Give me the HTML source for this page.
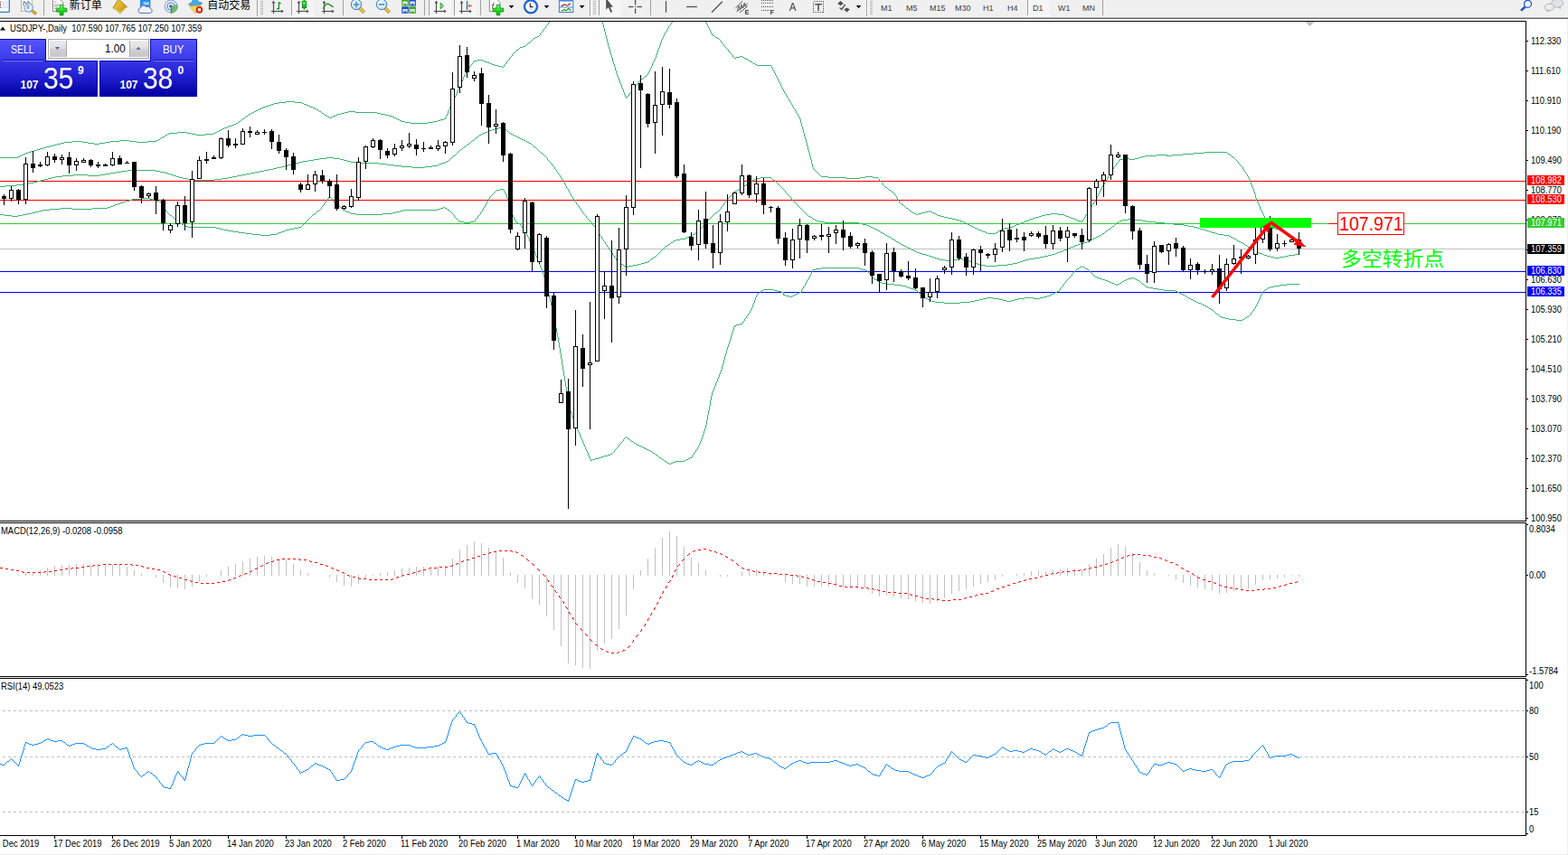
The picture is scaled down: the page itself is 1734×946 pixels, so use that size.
<!DOCTYPE html>
<html><head><meta charset="utf-8"><title>USDJPY Daily</title>
<style>
html,body{margin:0;padding:0;background:#fff;}
body{width:1734px;height:946px;position:relative;overflow:hidden;font-family:"Liberation Sans",sans-serif;}
#chart{position:absolute;left:0;top:0;}
.t{position:absolute;font-size:10px;line-height:11px;margin-top:0.4px;color:#000;white-space:nowrap;transform:scaleX(0.942);transform-origin:0 0;}
.t.title{transform:scaleX(0.942);}
.t.m{transform:scaleX(0.942);}
.t.w{color:#fff;}
#toolbar{position:absolute;left:0;top:0;width:1734px;height:19px;background:#f0f0f0;}
#tbline0{position:absolute;left:0;top:18px;width:1734px;height:1px;background:#f5f5f5;}
#tbline1{position:absolute;left:0;top:19px;width:1734px;height:1px;background:#b0b0b0;}
#tbline2{position:absolute;left:0;top:20px;width:1734px;height:1px;background:#6a6a6a;}
#rborder{position:absolute;left:1733px;top:21px;width:1px;height:925px;background:#f0f0f0;}
#bborder{position:absolute;left:0;top:945px;width:1734px;height:1px;background:#ececec;}
.pl{position:absolute;left:1689px;width:41px;height:11px;}
.big{position:absolute;left:1481px;top:235px;font-size:22.5px;line-height:25px;color:#ff0000;white-space:nowrap;transform:scaleX(0.87);transform-origin:0 0;}
.tf{position:absolute;top:2.5px;font-size:9.4px;line-height:11px;color:#404040;transform:scaleX(0.96);transform-origin:0 0;white-space:nowrap;}

.pn{position:absolute;}
.pb{background:linear-gradient(#5555ff,#3838e6);}
.pp{background:linear-gradient(#3636e4 0%,#2222d4 40%,#0000a0 100%);}
.ptxt{position:absolute;color:#fff;white-space:nowrap;line-height:1;transform-origin:0 0;}

</style></head><body>
<svg id="chart" width="1734" height="946" viewBox="0 0 1734 946">
<defs><clipPath id="mainclip"><rect x="0" y="24" width="1687" height="552"/></clipPath></defs>
<g shape-rendering="crispEdges">
<rect x="0" y="23" width="1688" height="1" fill="#000"/>
<rect x="1687" y="23" width="1" height="554" fill="#000"/>
<rect x="0" y="576" width="1688" height="1" fill="#000"/>
<rect x="0" y="578" width="1688" height="1" fill="#000"/>
<rect x="1687" y="578" width="1" height="171" fill="#000"/>
<rect x="0" y="748" width="1688" height="1" fill="#000"/>
<rect x="0" y="750" width="1688" height="1" fill="#000"/>
<rect x="1687" y="750" width="1" height="175" fill="#000"/>
<rect x="0" y="924" width="1688" height="1" fill="#000"/>
<rect x="0" y="200" width="1687" height="1" fill="#ff0000"/>
<rect x="0" y="221" width="1687" height="1" fill="#ff0000"/>
<rect x="0" y="247" width="1687" height="1" fill="#32cd32"/>
<rect x="0" y="275" width="1687" height="1" fill="#c0c0c0"/>
<rect x="0" y="300" width="1687" height="1" fill="#0000ff"/>
<rect x="0" y="323" width="1687" height="1" fill="#0000ff"/>
<rect x="1469" y="247" width="10" height="1" fill="#ff0000"/>
</g>
<path d="M0 174h20v1h-20zM0 206h6v1h-6zM0 237h5v1h-5zM5 238h8v1h-8zM6 205h12v1h-12zM13 239h7v1h-7zM18 204h9v1h-9zM20 173h2v1h-2zM20 238h5v1h-5zM22 172h2v1h-2zM24 171h2v1h-2zM25 237h5v1h-5zM26 170h2v1h-2zM27 203h5v1h-5zM28 169h3v1h-3zM30 236h5v1h-5zM31 168h3v1h-3zM32 202h5v1h-5zM34 167h4v1h-4zM35 235h4v1h-4zM37 201h4v1h-4zM38 166h3v1h-3zM39 234h4v1h-4zM41 165h3v1h-3zM41 200h4v1h-4zM43 233h4v1h-4zM44 164h4v1h-4zM45 199h4v1h-4zM47 232h8v1h-8zM48 163h3v1h-3zM49 198h4v1h-4zM51 162h4v1h-4zM53 197h4v1h-4zM55 161h4v1h-4zM55 231h12v1h-12zM57 196h4v1h-4zM59 160h4v1h-4zM61 195h8v1h-8zM63 159h4v1h-4zM67 158h4v1h-4zM67 230h13v1h-13zM69 194h12v1h-12zM71 157h9v1h-9zM80 156h11v1h-11zM80 231h22v1h-22zM81 193h16v1h-16zM91 157h6v1h-6zM97 158h7v1h-7zM97 194h13v1h-13zM102 230h17v1h-17zM104 159h6v1h-6zM110 158h6v1h-6zM110 193h6v1h-6zM116 157h6v1h-6zM116 192h6v1h-6zM119 229h3v1h-3zM122 156h10v1h-10zM122 191h6v1h-6zM122 228h3v1h-3zM125 227h2v1h-2zM127 226h3v1h-3zM128 190h6v1h-6zM130 225h3v1h-3zM132 155h11v1h-11zM133 224h3v1h-3zM134 189h7v1h-7zM136 223h3v1h-3zM139 222h4v1h-4zM141 188h31v1h-31zM143 156h8v1h-8zM143 221h3v1h-3zM146 220h10v1h-10zM151 157h12v1h-12zM156 219h10v1h-10zM163 156h10v1h-10zM166 220h3v1h-3zM169 221h4v1h-4zM172 189h5v1h-5zM173 155h2v1h-2zM173 222h3v1h-3zM175 154h2v1h-2zM176 223h2v1h-2zM177 153h1v1h-1zM177 190h5v1h-5zM178 152h2v1h-2zM178 224h1v2h-1zM179 226h1v1h-1zM180 151h2v1h-2zM180 227h1v2h-1zM181 229h1v2h-1zM182 150h1v1h-1zM182 191h4v1h-4zM182 231h1v1h-1zM183 149h2v1h-2zM183 232h1v2h-1zM184 234h1v1h-1zM185 148h2v1h-2zM185 235h1v1h-1zM186 192h3v1h-3zM186 236h1v1h-1zM187 147h9v1h-9zM187 237h1v1h-1zM188 238h2v1h-2zM189 193h3v1h-3zM190 239h1v1h-1zM191 240h1v1h-1zM192 194h3v1h-3zM192 241h1v1h-1zM193 242h2v1h-2zM195 195h3v1h-3zM195 243h1v1h-1zM196 146h11v1h-11zM196 244h1v1h-1zM197 245h2v1h-2zM198 196h4v1h-4zM199 246h1v1h-1zM200 247h1v1h-1zM201 248h2v1h-2zM202 197h5v1h-5zM203 249h1v1h-1zM204 250h4v1h-4zM207 147h5v1h-5zM207 198h7v1h-7zM208 251h31v1h-31zM212 148h5v1h-5zM214 199h23v1h-23zM217 149h10v1h-10zM227 148h9v1h-9zM236 147h2v1h-2zM237 198h8v1h-8zM238 146h2v1h-2zM239 252h4v1h-4zM240 145h2v1h-2zM242 144h2v1h-2zM243 253h4v1h-4zM244 143h2v1h-2zM245 197h7v1h-7zM246 142h2v1h-2zM247 254h5v1h-5zM248 141h3v1h-3zM251 140h2v1h-2zM252 196h5v1h-5zM252 255h6v1h-6zM253 139h3v1h-3zM256 138h3v1h-3zM257 195h5v1h-5zM258 256h6v1h-6zM259 137h2v1h-2zM261 136h2v1h-2zM262 194h5v1h-5zM263 135h1v1h-1zM264 134h2v1h-2zM264 257h7v1h-7zM266 133h1v1h-1zM267 132h1v1h-1zM267 193h5v1h-5zM268 131h2v1h-2zM270 130h1v1h-1zM271 129h1v1h-1zM271 258h8v1h-8zM272 128h2v1h-2zM272 192h5v1h-5zM274 127h1v1h-1zM275 126h2v1h-2zM277 125h2v1h-2zM277 191h5v1h-5zM279 124h2v1h-2zM279 259h9v1h-9zM281 123h2v1h-2zM282 190h5v1h-5zM283 122h2v1h-2zM285 121h2v1h-2zM287 120h2v1h-2zM287 189h5v1h-5zM288 260h11v1h-11zM289 119h2v1h-2zM291 118h3v1h-3zM292 188h5v1h-5zM294 117h3v1h-3zM297 116h3v1h-3zM297 187h5v1h-5zM299 259h7v1h-7zM300 115h3v1h-3zM302 186h4v1h-4zM303 114h5v1h-5zM306 185h5v1h-5zM306 258h2v1h-2zM308 113h8v1h-8zM308 257h3v1h-3zM311 184h4v1h-4zM311 256h3v1h-3zM314 255h2v1h-2zM315 183h4v1h-4zM316 112h10v1h-10zM316 254h4v1h-4zM319 182h4v1h-4zM320 253h5v1h-5zM323 181h4v1h-4zM325 252h5v1h-5zM326 113h8v1h-8zM327 180h4v1h-4zM330 251h3v1h-3zM331 179h4v1h-4zM333 250h1v1h-1zM334 114h2v1h-2zM334 249h1v1h-1zM335 178h6v1h-6zM335 248h1v1h-1zM336 115h3v1h-3zM336 247h1v1h-1zM337 246h1v1h-1zM338 245h1v1h-1zM339 116h2v1h-2zM339 244h1v1h-1zM340 243h1v1h-1zM341 117h2v1h-2zM341 177h6v1h-6zM341 242h1v1h-1zM342 241h1v1h-1zM343 118h3v1h-3zM343 240h1v1h-1zM344 239h1v1h-1zM345 238h1v1h-1zM346 119h2v1h-2zM346 237h2v1h-2zM347 176h6v1h-6zM348 120h2v1h-2zM348 236h1v1h-1zM349 235h1v1h-1zM350 121h2v1h-2zM350 234h1v1h-1zM351 233h2v1h-2zM352 122h1v1h-1zM353 123h2v1h-2zM353 175h8v1h-8zM353 232h1v1h-1zM354 231h1v1h-1zM355 124h1v1h-1zM355 229h1v2h-1zM356 125h2v1h-2zM356 228h1v1h-1zM357 227h1v1h-1zM358 126h1v1h-1zM358 225h1v2h-1zM359 127h2v1h-2zM359 224h1v1h-1zM360 222h1v2h-1zM361 128h1v1h-1zM361 174h8v1h-8zM361 221h1v1h-1zM362 129h2v1h-2zM362 220h1v1h-1zM363 218h1v2h-1zM364 130h2v1h-2zM364 217h1v1h-1zM365 218h1v1h-1zM366 129h2v1h-2zM366 219h1v1h-1zM367 220h1v2h-1zM368 128h3v1h-3zM368 222h1v1h-1zM369 175h7v1h-7zM369 223h1v1h-1zM370 224h1v1h-1zM371 127h2v1h-2zM371 225h1v1h-1zM372 226h1v1h-1zM373 126h4v1h-4zM373 227h1v1h-1zM374 228h2v1h-2zM376 176h4v1h-4zM376 229h1v1h-1zM377 125h4v1h-4zM377 230h1v1h-1zM378 231h1v1h-1zM379 232h2v1h-2zM380 177h4v1h-4zM381 124h4v1h-4zM381 233h2v1h-2zM383 234h3v1h-3zM384 178h4v1h-4zM385 123h8v1h-8zM386 235h2v1h-2zM388 179h6v1h-6zM388 236h6v1h-6zM393 124h24v1h-24zM394 180h25v1h-25zM394 237h29v1h-29zM417 125h4v1h-4zM419 181h9v1h-9zM421 126h5v1h-5zM423 236h11v1h-11zM426 127h4v1h-4zM428 182h8v1h-8zM430 128h4v1h-4zM434 129h2v1h-2zM434 235h4v1h-4zM436 130h2v1h-2zM436 183h8v1h-8zM438 131h2v1h-2zM438 234h4v1h-4zM440 132h2v1h-2zM442 133h2v1h-2zM442 233h4v1h-4zM444 134h4v1h-4zM444 184h12v1h-12zM446 232h38v1h-38zM448 135h6v1h-6zM454 136h19v1h-19zM456 185h14v1h-14zM470 184h8v1h-8zM473 135h6v1h-6zM478 183h6v1h-6zM479 134h5v1h-5zM484 133h3v1h-3zM484 182h2v1h-2zM484 231h3v1h-3zM486 181h3v1h-3zM487 132h4v1h-4zM487 230h3v1h-3zM489 180h3v1h-3zM490 229h2v1h-2zM491 131h2v1h-2zM492 130h1v1h-1zM492 179h2v1h-2zM492 230h2v1h-2zM493 128h1v2h-1zM494 126h1v2h-1zM494 178h2v1h-2zM494 231h1v1h-1zM495 123h1v3h-1zM495 232h2v1h-2zM496 121h1v2h-1zM496 177h1v1h-1zM497 118h1v3h-1zM497 176h1v1h-1zM497 233h1v1h-1zM498 116h1v2h-1zM498 175h1v1h-1zM498 234h1v1h-1zM499 114h1v2h-1zM499 174h1v1h-1zM499 235h1v1h-1zM500 112h1v2h-1zM500 173h1v1h-1zM500 236h1v1h-1zM501 110h1v2h-1zM501 172h2v1h-2zM501 237h1v1h-1zM502 108h1v2h-1zM502 238h1v2h-1zM503 106h1v2h-1zM503 171h1v1h-1zM503 240h1v1h-1zM504 104h1v2h-1zM504 170h1v1h-1zM504 241h1v1h-1zM505 101h1v3h-1zM505 169h1v1h-1zM505 242h1v1h-1zM506 99h1v2h-1zM506 168h1v1h-1zM506 243h1v1h-1zM507 97h1v2h-1zM507 167h1v1h-1zM507 244h2v1h-2zM508 94h1v3h-1zM508 166h1v1h-1zM509 92h1v2h-1zM509 165h2v1h-2zM509 245h4v1h-4zM510 90h1v2h-1zM511 88h1v2h-1zM511 164h1v1h-1zM512 85h1v3h-1zM512 163h1v1h-1zM513 83h1v2h-1zM513 162h2v1h-2zM513 246h7v1h-7zM514 81h1v2h-1zM515 79h1v2h-1zM515 161h1v1h-1zM516 78h1v1h-1zM516 160h1v1h-1zM517 76h1v2h-1zM517 159h2v1h-2zM518 75h1v1h-1zM519 74h1v1h-1zM519 158h1v1h-1zM520 72h1v2h-1zM520 157h1v1h-1zM520 245h5v1h-5zM521 71h1v1h-1zM521 156h1v1h-1zM522 70h1v1h-1zM522 155h2v1h-2zM523 68h1v2h-1zM524 67h4v1h-4zM524 154h1v1h-1zM525 153h1v1h-1zM525 243h1v2h-1zM526 152h2v1h-2zM526 242h1v1h-1zM527 241h1v1h-1zM528 66h6v1h-6zM528 151h1v1h-1zM528 239h1v2h-1zM529 150h1v1h-1zM529 238h1v1h-1zM530 149h2v1h-2zM530 237h1v1h-1zM531 235h1v2h-1zM532 148h2v1h-2zM532 234h1v1h-1zM533 232h1v2h-1zM534 67h2v1h-2zM534 147h2v1h-2zM534 230h1v2h-1zM535 229h1v1h-1zM536 68h3v1h-3zM536 146h3v1h-3zM536 227h1v2h-1zM537 225h1v2h-1zM538 223h1v2h-1zM539 69h3v1h-3zM539 145h2v1h-2zM539 222h1v1h-1zM540 220h1v2h-1zM541 144h3v1h-3zM541 218h1v2h-1zM542 70h2v1h-2zM542 217h1v1h-1zM543 216h1v1h-1zM544 71h3v1h-3zM544 143h3v1h-3zM544 215h1v1h-1zM545 214h1v1h-1zM546 213h1v1h-1zM547 72h4v1h-4zM547 142h4v1h-4zM547 212h1v1h-1zM548 211h1v1h-1zM549 210h4v1h-4zM551 73h4v1h-4zM551 141h3v1h-3zM553 209h4v1h-4zM554 140h2v1h-2zM555 74h2v1h-2zM556 141h1v1h-1zM557 72h1v2h-1zM557 142h1v1h-1zM557 210h1v2h-1zM558 71h1v1h-1zM558 143h2v1h-2zM558 212h1v2h-1zM559 70h1v1h-1zM559 214h1v2h-1zM560 68h1v2h-1zM560 144h1v1h-1zM560 216h1v3h-1zM561 67h1v1h-1zM561 145h1v1h-1zM561 219h1v4h-1zM562 66h1v1h-1zM562 146h1v1h-1zM562 223h1v3h-1zM563 64h1v2h-1zM563 147h2v1h-2zM563 226h1v3h-1zM564 63h1v1h-1zM564 229h1v4h-1zM565 62h1v1h-1zM565 148h2v1h-2zM565 233h1v3h-1zM566 60h1v2h-1zM566 236h1v2h-1zM567 59h1v1h-1zM567 149h2v1h-2zM567 238h1v2h-1zM568 58h1v1h-1zM568 240h1v2h-1zM569 57h1v1h-1zM569 150h2v1h-2zM569 242h1v2h-1zM570 56h1v1h-1zM570 244h1v2h-1zM571 55h2v1h-2zM571 151h2v1h-2zM571 246h2v1h-2zM573 54h1v1h-1zM573 152h2v1h-2zM573 247h2v1h-2zM574 53h1v1h-1zM575 52h3v1h-3zM575 153h2v1h-2zM575 248h1v1h-1zM576 249h1v2h-1zM577 154h2v1h-2zM577 251h1v1h-1zM578 51h3v1h-3zM578 252h1v1h-1zM579 155h2v1h-2zM579 253h1v2h-1zM580 255h1v1h-1zM581 50h1v1h-1zM581 156h2v1h-2zM581 256h1v2h-1zM582 49h1v1h-1zM582 258h1v2h-1zM583 48h1v1h-1zM583 157h2v1h-2zM583 260h1v2h-1zM584 47h2v1h-2zM584 262h1v2h-1zM585 158h2v1h-2zM585 264h1v3h-1zM586 46h1v1h-1zM586 267h1v2h-1zM587 45h1v1h-1zM587 159h1v1h-1zM587 269h1v2h-1zM588 44h1v1h-1zM588 160h1v1h-1zM588 271h1v2h-1zM589 43h1v1h-1zM589 161h1v1h-1zM589 273h1v3h-1zM590 42h2v1h-2zM590 162h2v1h-2zM590 276h1v2h-1zM591 278h1v2h-1zM592 41h2v1h-2zM592 163h1v1h-1zM592 280h1v3h-1zM593 164h1v1h-1zM593 283h1v2h-1zM594 40h2v1h-2zM594 165h1v1h-1zM594 285h1v2h-1zM595 166h1v1h-1zM595 287h1v3h-1zM596 39h1v1h-1zM596 167h1v1h-1zM596 290h1v3h-1zM597 37h1v2h-1zM597 168h1v1h-1zM597 293h1v3h-1zM598 36h1v1h-1zM598 169h2v1h-2zM598 296h1v2h-1zM599 35h1v1h-1zM599 298h1v3h-1zM600 33h1v2h-1zM600 170h1v1h-1zM600 301h1v3h-1zM601 32h1v1h-1zM601 171h1v1h-1zM601 304h1v3h-1zM602 31h1v1h-1zM602 172h1v1h-1zM602 307h1v3h-1zM603 29h1v2h-1zM603 173h1v1h-1zM603 310h1v4h-1zM604 28h1v1h-1zM604 174h1v1h-1zM604 314h1v4h-1zM605 27h1v1h-1zM605 175h1v2h-1zM605 318h1v4h-1zM606 25h1v2h-1zM606 177h1v1h-1zM606 322h1v4h-1zM607 24h1v1h-1zM607 178h1v1h-1zM607 326h1v4h-1zM608 179h1v1h-1zM608 330h1v4h-1zM609 180h1v1h-1zM609 334h1v4h-1zM610 181h1v2h-1zM610 338h1v5h-1zM611 183h1v1h-1zM611 343h1v5h-1zM612 184h1v1h-1zM612 348h1v5h-1zM613 185h1v2h-1zM613 353h1v5h-1zM614 187h1v1h-1zM614 358h1v5h-1zM615 188h1v2h-1zM615 363h1v5h-1zM616 190h1v1h-1zM616 368h1v5h-1zM617 191h1v2h-1zM617 373h1v6h-1zM618 193h1v1h-1zM618 379h1v6h-1zM619 194h1v2h-1zM619 385h1v6h-1zM620 196h1v1h-1zM620 391h1v6h-1zM621 197h1v2h-1zM621 397h1v7h-1zM622 199h1v1h-1zM622 404h1v6h-1zM623 200h1v2h-1zM623 410h1v6h-1zM624 202h1v2h-1zM624 416h1v6h-1zM625 204h1v2h-1zM625 422h1v6h-1zM626 206h1v2h-1zM626 428h1v6h-1zM627 208h1v1h-1zM627 434h1v5h-1zM628 209h1v2h-1zM628 439h1v6h-1zM629 211h1v2h-1zM629 445h1v6h-1zM630 213h1v2h-1zM630 451h1v4h-1zM631 215h1v2h-1zM631 455h1v2h-1zM632 217h1v1h-1zM632 457h1v3h-1zM633 218h1v2h-1zM633 460h1v3h-1zM634 220h1v1h-1zM634 463h1v2h-1zM635 221h1v2h-1zM635 465h1v3h-1zM636 223h1v1h-1zM636 468h1v3h-1zM637 224h1v2h-1zM637 471h1v2h-1zM638 226h1v1h-1zM638 473h1v3h-1zM639 227h1v1h-1zM639 476h1v2h-1zM640 228h1v2h-1zM640 478h1v2h-1zM641 230h1v1h-1zM641 480h1v3h-1zM642 231h1v2h-1zM642 483h1v2h-1zM643 233h1v1h-1zM643 485h1v2h-1zM644 234h1v2h-1zM644 487h1v3h-1zM645 236h1v1h-1zM645 490h1v2h-1zM646 237h1v1h-1zM646 492h1v2h-1zM647 238h1v1h-1zM647 494h1v3h-1zM648 239h1v2h-1zM648 497h1v2h-1zM649 241h1v1h-1zM649 499h1v2h-1zM650 242h1v1h-1zM650 501h1v3h-1zM651 243h1v1h-1zM651 504h1v2h-1zM652 244h1v1h-1zM652 506h1v2h-1zM653 245h1v1h-1zM653 508h1v1h-1zM653 509h2v1h-2zM654 246h1v2h-1zM655 248h1v1h-1zM655 508h3v1h-3zM656 249h1v1h-1zM657 250h1v1h-1zM658 251h1v2h-1zM658 507h4v1h-4zM659 253h1v1h-1zM660 254h1v2h-1zM661 256h1v2h-1zM662 258h1v1h-1zM662 506h3v1h-3zM663 259h1v2h-1zM664 261h1v1h-1zM665 262h1v2h-1zM665 505h3v1h-3zM666 24h1v3h-1zM666 264h1v1h-1zM667 27h1v4h-1zM667 265h1v2h-1zM668 31h1v4h-1zM668 267h1v1h-1zM668 504h4v1h-4zM669 35h1v4h-1zM669 268h1v2h-1zM670 39h1v4h-1zM670 270h1v1h-1zM671 43h1v4h-1zM671 271h1v2h-1zM672 47h1v4h-1zM672 273h1v1h-1zM672 503h3v1h-3zM673 51h1v3h-1zM673 274h1v2h-1zM674 54h1v4h-1zM674 276h1v1h-1zM675 58h1v3h-1zM675 277h1v2h-1zM675 502h2v1h-2zM676 61h1v3h-1zM676 279h1v1h-1zM677 64h1v4h-1zM677 280h1v2h-1zM677 501h1v1h-1zM678 68h1v3h-1zM678 282h1v1h-1zM678 500h1v1h-1zM679 71h1v3h-1zM679 283h1v2h-1zM679 498h1v2h-1zM680 74h1v4h-1zM680 285h1v1h-1zM680 497h1v1h-1zM681 78h1v3h-1zM681 286h1v2h-1zM681 496h1v1h-1zM682 81h1v3h-1zM682 288h1v1h-1zM682 495h1v1h-1zM683 84h1v2h-1zM683 289h2v1h-2zM683 494h1v1h-1zM684 86h1v3h-1zM684 492h1v2h-1zM685 89h1v3h-1zM685 290h1v1h-1zM685 491h1v1h-1zM686 92h1v2h-1zM686 291h1v1h-1zM686 490h1v1h-1zM687 94h1v3h-1zM687 292h2v1h-2zM687 489h1v1h-1zM688 97h1v2h-1zM688 488h1v1h-1zM689 99h1v3h-1zM689 293h1v1h-1zM689 486h1v2h-1zM690 102h1v3h-1zM690 294h2v1h-2zM690 485h1v1h-1zM691 105h1v2h-1zM691 484h1v1h-1zM692 107h2v1h-2zM692 108h1v1h-1zM692 295h3v1h-3zM692 483h1v1h-1zM693 484h1v1h-1zM694 106h1v1h-1zM694 485h2v1h-2zM695 104h1v2h-1zM695 294h5v1h-5zM696 103h1v1h-1zM696 486h1v1h-1zM697 102h1v1h-1zM697 487h1v1h-1zM698 101h1v1h-1zM698 488h2v1h-2zM699 99h1v2h-1zM700 98h1v1h-1zM700 293h5v1h-5zM700 489h1v1h-1zM701 97h1v1h-1zM701 490h2v1h-2zM702 95h1v2h-1zM703 94h1v1h-1zM703 491h2v1h-2zM704 93h1v1h-1zM705 91h1v2h-1zM705 292h4v1h-4zM705 492h2v1h-2zM706 90h1v1h-1zM707 89h1v1h-1zM707 493h2v1h-2zM708 88h1v1h-1zM709 87h2v1h-2zM709 291h4v1h-4zM709 494h2v1h-2zM711 86h1v1h-1zM711 495h2v1h-2zM712 85h1v1h-1zM713 84h2v1h-2zM713 290h3v1h-3zM713 496h2v1h-2zM715 83h1v1h-1zM715 497h2v1h-2zM716 81h1v2h-1zM716 289h2v1h-2zM717 79h1v2h-1zM717 498h2v1h-2zM718 77h1v2h-1zM718 288h1v1h-1zM719 75h1v2h-1zM719 287h1v1h-1zM719 499h2v1h-2zM720 73h1v2h-1zM720 286h2v1h-2zM721 70h1v3h-1zM721 500h1v1h-1zM722 68h1v2h-1zM722 285h1v1h-1zM722 501h2v1h-2zM723 66h1v2h-1zM723 284h2v1h-2zM724 64h1v2h-1zM724 502h1v1h-1zM725 61h1v3h-1zM725 283h1v1h-1zM725 503h2v1h-2zM726 58h1v3h-1zM726 282h1v1h-1zM727 55h1v3h-1zM727 281h1v1h-1zM727 504h1v1h-1zM728 53h1v2h-1zM728 280h1v1h-1zM728 505h1v1h-1zM729 50h1v3h-1zM729 279h1v1h-1zM729 506h2v1h-2zM730 47h1v3h-1zM730 278h1v1h-1zM731 44h1v3h-1zM731 277h1v1h-1zM731 507h1v1h-1zM732 42h1v2h-1zM732 276h1v1h-1zM732 508h2v1h-2zM733 40h1v2h-1zM733 275h1v1h-1zM734 38h1v2h-1zM734 274h1v1h-1zM734 509h1v1h-1zM735 36h1v2h-1zM735 273h1v1h-1zM735 510h2v1h-2zM736 35h1v1h-1zM736 272h2v1h-2zM737 33h1v2h-1zM737 511h1v1h-1zM738 31h1v2h-1zM738 271h1v1h-1zM738 512h2v1h-2zM739 29h1v2h-1zM739 270h2v1h-2zM740 28h1v1h-1zM740 513h2v1h-2zM741 27h1v1h-1zM741 269h1v1h-1zM742 25h1v2h-1zM742 268h2v1h-2zM742 512h2v1h-2zM743 24h1v1h-1zM744 267h1v1h-1zM744 511h3v1h-3zM745 266h2v1h-2zM747 265h5v1h-5zM747 510h10v1h-10zM752 264h6v1h-6zM757 509h2v1h-2zM758 263h2v1h-2zM759 508h2v1h-2zM760 262h2v1h-2zM761 507h2v1h-2zM762 261h2v1h-2zM763 506h2v1h-2zM764 260h2v1h-2zM765 504h1v2h-1zM766 259h2v1h-2zM766 503h1v1h-1zM767 501h1v2h-1zM768 258h1v1h-1zM768 500h1v1h-1zM769 257h1v1h-1zM769 498h1v2h-1zM770 256h1v1h-1zM770 497h1v1h-1zM771 255h1v1h-1zM771 495h1v2h-1zM772 254h2v1h-2zM772 493h1v2h-1zM773 491h1v2h-1zM774 253h1v1h-1zM774 488h1v3h-1zM775 252h1v1h-1zM775 486h1v2h-1zM776 251h1v1h-1zM776 483h1v3h-1zM777 250h1v1h-1zM777 480h1v3h-1zM778 249h1v1h-1zM778 477h1v3h-1zM779 248h1v1h-1zM779 474h1v3h-1zM780 24h1v1h-1zM780 247h1v1h-1zM780 470h1v4h-1zM781 25h1v2h-1zM781 246h1v1h-1zM781 465h1v5h-1zM782 27h1v2h-1zM782 244h1v2h-1zM782 459h1v6h-1zM783 29h1v2h-1zM783 243h1v1h-1zM783 454h1v5h-1zM784 31h1v2h-1zM784 242h1v1h-1zM784 449h1v5h-1zM785 33h1v2h-1zM785 241h1v1h-1zM785 443h1v6h-1zM786 35h1v2h-1zM786 240h1v1h-1zM786 438h1v5h-1zM787 37h1v2h-1zM787 239h1v1h-1zM787 434h1v4h-1zM788 39h2v1h-2zM788 238h1v1h-1zM788 432h1v2h-1zM789 237h1v1h-1zM789 429h1v3h-1zM790 40h1v1h-1zM790 236h1v1h-1zM790 427h1v2h-1zM791 41h2v1h-2zM791 235h2v1h-2zM791 424h1v3h-1zM792 422h1v2h-1zM793 42h2v1h-2zM793 234h1v1h-1zM793 419h1v3h-1zM794 233h1v1h-1zM794 417h1v2h-1zM795 43h1v1h-1zM795 232h1v1h-1zM795 414h1v3h-1zM796 44h1v1h-1zM796 231h1v1h-1zM796 412h1v2h-1zM797 45h1v2h-1zM797 229h1v2h-1zM797 409h1v3h-1zM798 47h1v1h-1zM798 228h1v1h-1zM798 405h1v4h-1zM799 48h1v1h-1zM799 227h1v1h-1zM799 402h1v3h-1zM800 49h1v2h-1zM800 225h1v2h-1zM800 398h1v4h-1zM801 51h1v1h-1zM801 224h1v1h-1zM801 394h1v4h-1zM802 52h1v1h-1zM802 223h1v1h-1zM802 391h1v3h-1zM803 53h1v1h-1zM803 221h1v2h-1zM803 387h1v4h-1zM804 54h1v1h-1zM804 220h1v1h-1zM804 384h1v3h-1zM805 55h1v2h-1zM805 219h1v1h-1zM805 381h1v3h-1zM806 57h1v1h-1zM806 218h1v1h-1zM806 378h1v3h-1zM807 58h1v1h-1zM807 217h1v1h-1zM807 375h1v3h-1zM808 59h1v1h-1zM808 216h1v1h-1zM808 371h1v4h-1zM809 60h1v1h-1zM809 215h1v1h-1zM809 368h1v3h-1zM810 61h1v2h-1zM810 214h1v1h-1zM810 365h1v3h-1zM811 63h1v1h-1zM811 213h1v1h-1zM811 362h1v3h-1zM812 64h2v1h-2zM812 212h1v1h-1zM812 360h2v1h-2zM812 361h1v1h-1zM813 211h2v1h-2zM814 63h4v1h-4zM814 359h4v1h-4zM815 210h2v1h-2zM817 209h1v1h-1zM818 62h3v1h-3zM818 208h2v1h-2zM818 358h3v1h-3zM820 207h2v1h-2zM821 63h2v1h-2zM821 356h1v2h-1zM822 206h1v1h-1zM822 355h1v1h-1zM823 64h2v1h-2zM823 205h2v1h-2zM823 353h1v2h-1zM824 352h1v1h-1zM825 65h2v1h-2zM825 204h1v1h-1zM825 350h1v2h-1zM826 203h1v1h-1zM826 349h1v1h-1zM827 66h1v1h-1zM827 202h2v1h-2zM827 347h1v2h-1zM828 67h2v1h-2zM828 346h1v1h-1zM829 201h1v1h-1zM829 344h1v2h-1zM830 68h2v1h-2zM830 200h2v1h-2zM830 342h1v2h-1zM831 340h1v2h-1zM832 69h1v1h-1zM832 199h2v1h-2zM832 337h1v3h-1zM833 70h2v1h-2zM833 335h1v2h-1zM834 198h3v1h-3zM834 332h1v3h-1zM835 71h2v1h-2zM835 329h1v3h-1zM836 327h1v2h-1zM837 72h16v1h-16zM837 197h4v1h-4zM837 325h1v2h-1zM838 324h2v1h-2zM840 323h1v1h-1zM841 196h12v1h-12zM841 322h1v1h-1zM842 321h2v1h-2zM844 320h12v1h-12zM853 73h1v2h-1zM853 197h1v1h-1zM854 75h1v2h-1zM854 198h1v1h-1zM855 77h1v2h-1zM855 199h2v1h-2zM856 79h1v2h-1zM856 321h4v1h-4zM857 81h1v2h-1zM857 200h1v1h-1zM858 83h1v2h-1zM858 201h1v1h-1zM859 85h1v2h-1zM859 202h1v1h-1zM860 87h1v2h-1zM860 203h1v1h-1zM860 322h4v1h-4zM861 89h1v2h-1zM861 204h1v1h-1zM862 91h1v2h-1zM862 205h1v1h-1zM863 93h1v2h-1zM863 206h1v1h-1zM864 95h1v2h-1zM864 207h1v1h-1zM864 323h3v1h-3zM865 97h1v2h-1zM865 208h1v1h-1zM866 99h1v2h-1zM866 209h1v1h-1zM866 324h1v2h-1zM866 326h3v1h-3zM867 101h1v2h-1zM867 210h1v1h-1zM868 103h1v1h-1zM868 211h1v2h-1zM869 104h1v2h-1zM869 213h1v1h-1zM869 327h4v1h-4zM870 106h1v2h-1zM870 214h1v1h-1zM871 108h1v1h-1zM871 215h1v1h-1zM872 109h1v2h-1zM872 216h1v1h-1zM873 111h1v2h-1zM873 217h1v1h-1zM873 328h3v1h-3zM874 113h1v1h-1zM874 218h1v1h-1zM875 114h1v2h-1zM875 219h1v2h-1zM876 116h1v2h-1zM876 221h1v1h-1zM876 327h2v1h-2zM877 118h1v2h-1zM877 222h1v1h-1zM878 120h1v1h-1zM878 223h1v1h-1zM878 326h2v1h-2zM879 121h1v2h-1zM879 224h1v1h-1zM880 123h1v2h-1zM880 225h1v1h-1zM880 325h2v1h-2zM881 125h1v1h-1zM881 226h1v1h-1zM882 126h1v2h-1zM882 227h1v1h-1zM882 324h2v1h-2zM883 128h1v2h-1zM883 228h1v1h-1zM884 130h1v2h-1zM884 229h1v1h-1zM884 323h2v1h-2zM885 132h1v4h-1zM885 230h1v1h-1zM886 136h1v4h-1zM886 231h1v1h-1zM886 321h1v2h-1zM887 140h1v3h-1zM887 232h1v1h-1zM887 319h1v2h-1zM888 143h1v4h-1zM888 233h1v1h-1zM888 317h1v2h-1zM889 147h1v4h-1zM889 234h1v1h-1zM889 316h1v1h-1zM890 151h1v3h-1zM890 235h1v1h-1zM890 314h1v2h-1zM891 154h1v4h-1zM891 236h1v1h-1zM891 312h1v2h-1zM892 158h1v4h-1zM892 237h1v1h-1zM892 310h1v2h-1zM893 162h1v4h-1zM893 238h1v1h-1zM893 309h1v1h-1zM894 166h1v3h-1zM894 239h2v1h-2zM894 307h1v2h-1zM895 169h1v4h-1zM895 305h1v2h-1zM896 173h1v4h-1zM896 240h2v1h-2zM896 303h1v2h-1zM897 177h1v4h-1zM897 301h1v2h-1zM898 181h1v4h-1zM898 241h1v1h-1zM898 299h1v2h-1zM899 185h1v2h-1zM899 242h2v1h-2zM899 298h3v1h-3zM900 187h1v1h-1zM901 188h1v1h-1zM901 243h2v1h-2zM902 189h1v1h-1zM902 297h6v1h-6zM903 190h1v1h-1zM903 244h3v1h-3zM904 191h1v1h-1zM905 192h1v1h-1zM906 193h1v1h-1zM906 245h6v1h-6zM907 194h1v1h-1zM908 195h8v1h-8zM908 296h42v1h-42zM912 246h38v1h-38zM916 196h20v1h-20zM936 197h15v1h-15zM950 247h4v1h-4zM950 297h3v1h-3zM951 196h6v1h-6zM953 298h4v1h-4zM954 248h4v1h-4zM957 195h8v1h-8zM957 299h2v1h-2zM958 249h3v1h-3zM959 300h1v1h-1zM960 301h1v1h-1zM961 250h2v1h-2zM961 302h1v1h-1zM962 303h1v2h-1zM963 251h2v1h-2zM963 305h1v1h-1zM964 306h1v1h-1zM965 196h6v1h-6zM965 252h2v1h-2zM965 307h1v1h-1zM966 308h2v1h-2zM967 253h2v1h-2zM968 309h2v1h-2zM969 254h2v1h-2zM970 310h1v1h-1zM971 197h1v1h-1zM971 255h2v1h-2zM971 311h2v1h-2zM972 198h1v2h-1zM973 200h1v1h-1zM973 256h1v1h-1zM973 312h2v1h-2zM974 201h1v1h-1zM974 257h2v1h-2zM975 202h1v1h-1zM975 313h5v1h-5zM976 203h1v2h-1zM976 258h2v1h-2zM977 205h1v1h-1zM978 206h1v1h-1zM978 259h1v1h-1zM979 207h2v1h-2zM979 260h2v1h-2zM980 314h9v1h-9zM981 208h1v1h-1zM981 261h2v1h-2zM982 209h1v1h-1zM983 210h2v1h-2zM983 262h2v1h-2zM985 211h1v1h-1zM985 263h1v1h-1zM986 212h2v1h-2zM986 264h2v1h-2zM988 213h1v1h-1zM988 265h2v1h-2zM989 214h1v2h-1zM989 315h8v1h-8zM990 216h1v1h-1zM990 266h1v1h-1zM991 217h1v2h-1zM991 267h2v1h-2zM992 219h1v2h-1zM993 221h1v1h-1zM993 268h2v1h-2zM994 222h1v2h-1zM995 224h1v1h-1zM995 269h1v1h-1zM996 225h1v1h-1zM996 270h2v1h-2zM997 226h2v1h-2zM997 316h5v1h-5zM998 271h2v1h-2zM999 227h1v1h-1zM1000 228h1v1h-1zM1000 272h2v1h-2zM1001 229h1v1h-1zM1002 230h2v1h-2zM1002 273h2v1h-2zM1002 317h2v1h-2zM1004 231h1v1h-1zM1004 274h2v1h-2zM1004 318h3v1h-3zM1005 232h1v1h-1zM1006 233h2v1h-2zM1006 275h2v1h-2zM1007 319h3v1h-3zM1008 234h1v1h-1zM1008 276h2v1h-2zM1009 235h2v1h-2zM1010 277h2v1h-2zM1010 320h2v1h-2zM1011 236h2v1h-2zM1012 278h2v1h-2zM1012 321h2v1h-2zM1013 237h2v1h-2zM1014 279h3v1h-3zM1014 322h1v1h-1zM1015 236h4v1h-4zM1015 323h1v1h-1zM1016 324h2v1h-2zM1017 280h3v1h-3zM1018 325h1v1h-1zM1019 235h4v1h-4zM1019 326h1v1h-1zM1020 281h4v1h-4zM1020 327h1v1h-1zM1021 328h2v1h-2zM1023 234h4v1h-4zM1023 329h1v1h-1zM1024 282h3v1h-3zM1024 330h2v1h-2zM1026 331h2v1h-2zM1027 233h2v1h-2zM1027 283h3v1h-3zM1028 332h2v1h-2zM1029 234h2v1h-2zM1030 284h3v1h-3zM1030 333h4v1h-4zM1031 235h2v1h-2zM1033 236h2v1h-2zM1033 285h3v1h-3zM1034 334h10v1h-10zM1035 237h2v1h-2zM1036 286h3v1h-3zM1037 238h3v1h-3zM1039 287h6v1h-6zM1040 239h4v1h-4zM1044 240h4v1h-4zM1044 335h18v1h-18zM1045 288h9v1h-9zM1048 241h5v1h-5zM1053 242h4v1h-4zM1054 287h6v1h-6zM1057 243h4v1h-4zM1060 286h5v1h-5zM1061 244h3v1h-3zM1062 334h11v1h-11zM1064 245h2v1h-2zM1065 287h3v1h-3zM1066 246h2v1h-2zM1068 247h2v1h-2zM1068 288h4v1h-4zM1070 248h2v1h-2zM1072 249h2v1h-2zM1072 289h3v1h-3zM1073 333h5v1h-5zM1074 250h2v1h-2zM1075 290h3v1h-3zM1076 251h2v1h-2zM1078 252h2v1h-2zM1078 291h3v1h-3zM1078 332h5v1h-5zM1080 253h2v1h-2zM1081 292h3v1h-3zM1082 254h3v1h-3zM1083 331h4v1h-4zM1084 293h6v1h-6zM1085 255h2v1h-2zM1087 256h3v1h-3zM1087 330h4v1h-4zM1090 257h2v1h-2zM1090 294h13v1h-13zM1091 329h7v1h-7zM1092 258h9v1h-9zM1098 330h7v1h-7zM1101 257h2v1h-2zM1103 256h1v1h-1zM1103 293h11v1h-11zM1104 255h2v1h-2zM1105 331h4v1h-4zM1106 254h2v1h-2zM1108 253h3v1h-3zM1109 332h4v1h-4zM1111 252h5v1h-5zM1113 333h5v1h-5zM1114 292h6v1h-6zM1116 251h4v1h-4zM1118 332h4v1h-4zM1120 250h2v1h-2zM1120 291h5v1h-5zM1122 249h2v1h-2zM1122 331h4v1h-4zM1124 248h3v1h-3zM1125 290h3v1h-3zM1126 330h7v1h-7zM1127 247h2v1h-2zM1128 289h3v1h-3zM1129 246h3v1h-3zM1131 288h3v1h-3zM1132 245h2v1h-2zM1133 329h10v1h-10zM1134 244h3v1h-3zM1134 287h4v1h-4zM1137 243h2v1h-2zM1138 286h6v1h-6zM1139 242h3v1h-3zM1142 241h3v1h-3zM1143 330h7v1h-7zM1144 285h6v1h-6zM1145 240h4v1h-4zM1149 239h3v1h-3zM1150 284h5v1h-5zM1150 329h4v1h-4zM1152 238h4v1h-4zM1154 328h4v1h-4zM1155 283h4v1h-4zM1156 237h6v1h-6zM1158 327h3v1h-3zM1159 282h4v1h-4zM1161 326h2v1h-2zM1162 236h8v1h-8zM1163 281h4v1h-4zM1163 325h2v1h-2zM1165 324h2v1h-2zM1167 280h2v1h-2zM1167 323h2v1h-2zM1169 279h3v1h-3zM1169 322h2v1h-2zM1170 237h7v1h-7zM1171 321h1v1h-1zM1172 278h3v1h-3zM1172 319h1v2h-1zM1173 318h1v1h-1zM1174 317h1v1h-1zM1175 277h2v1h-2zM1175 315h1v2h-1zM1176 314h1v1h-1zM1177 238h2v1h-2zM1177 276h3v1h-3zM1177 313h1v1h-1zM1178 311h1v2h-1zM1179 239h3v1h-3zM1179 310h1v1h-1zM1180 275h2v1h-2zM1180 309h1v1h-1zM1181 308h1v1h-1zM1182 240h2v1h-2zM1182 274h2v1h-2zM1182 307h1v1h-1zM1183 306h1v1h-1zM1184 241h3v1h-3zM1184 273h3v1h-3zM1184 305h1v1h-1zM1185 303h1v2h-1zM1186 302h1v1h-1zM1187 242h3v1h-3zM1187 272h2v1h-2zM1187 301h1v1h-1zM1188 300h1v1h-1zM1189 271h3v1h-3zM1189 299h1v1h-1zM1190 243h2v1h-2zM1190 298h1v1h-1zM1191 297h2v1h-2zM1192 244h3v1h-3zM1192 270h3v1h-3zM1193 296h1v1h-1zM1194 295h2v1h-2zM1195 245h2v1h-2zM1195 269h4v1h-4zM1196 294h1v1h-1zM1197 243h1v2h-1zM1197 295h2v1h-2zM1198 242h1v1h-1zM1199 240h1v2h-1zM1199 268h3v1h-3zM1199 296h2v1h-2zM1200 238h1v2h-1zM1201 237h1v1h-1zM1201 297h2v1h-2zM1202 235h1v2h-1zM1202 267h2v1h-2zM1203 234h1v1h-1zM1203 298h1v1h-1zM1204 232h1v2h-1zM1204 266h2v1h-2zM1204 299h1v1h-1zM1205 231h1v1h-1zM1205 300h1v1h-1zM1206 229h1v2h-1zM1206 265h2v1h-2zM1206 301h1v1h-1zM1207 227h1v2h-1zM1207 302h1v1h-1zM1208 226h1v1h-1zM1208 264h2v1h-2zM1208 303h1v1h-1zM1209 224h1v2h-1zM1209 304h1v1h-1zM1210 223h1v1h-1zM1210 263h2v1h-2zM1210 305h1v1h-1zM1211 221h1v2h-1zM1211 306h2v1h-2zM1212 219h1v2h-1zM1212 262h2v1h-2zM1213 217h1v2h-1zM1213 307h3v1h-3zM1214 215h1v2h-1zM1214 261h2v1h-2zM1215 213h1v2h-1zM1216 211h1v2h-1zM1216 260h2v1h-2zM1216 308h3v1h-3zM1217 209h1v2h-1zM1218 207h1v2h-1zM1218 259h1v1h-1zM1219 205h1v2h-1zM1219 258h2v1h-2zM1219 309h3v1h-3zM1220 204h1v1h-1zM1221 202h1v2h-1zM1221 257h1v1h-1zM1222 200h1v2h-1zM1222 256h1v1h-1zM1222 310h3v1h-3zM1223 199h1v1h-1zM1223 255h2v1h-2zM1224 197h1v2h-1zM1225 195h1v2h-1zM1225 254h1v1h-1zM1225 311h2v1h-2zM1226 193h1v2h-1zM1226 253h2v1h-2zM1227 192h1v1h-1zM1227 312h2v1h-2zM1228 190h1v2h-1zM1228 252h1v1h-1zM1229 188h1v2h-1zM1229 251h1v1h-1zM1229 313h3v1h-3zM1230 187h1v1h-1zM1230 250h2v1h-2zM1231 185h1v2h-1zM1232 184h1v1h-1zM1232 249h1v1h-1zM1232 314h2v1h-2zM1233 183h1v1h-1zM1233 248h1v1h-1zM1234 181h1v2h-1zM1234 247h1v1h-1zM1234 315h2v1h-2zM1235 180h1v1h-1zM1235 246h2v1h-2zM1236 179h1v1h-1zM1236 314h2v1h-2zM1237 177h1v2h-1zM1237 245h1v1h-1zM1238 176h4v1h-4zM1238 244h3v1h-3zM1238 313h2v1h-2zM1240 312h1v1h-1zM1241 243h6v1h-6zM1241 311h2v1h-2zM1242 175h7v1h-7zM1243 310h2v1h-2zM1245 309h2v1h-2zM1247 242h8v1h-8zM1247 308h4v1h-4zM1249 176h6v1h-6zM1251 307h3v1h-3zM1254 308h2v1h-2zM1255 175h4v1h-4zM1255 243h8v1h-8zM1256 309h2v1h-2zM1258 310h2v1h-2zM1259 174h3v1h-3zM1260 311h1v1h-1zM1261 312h1v1h-1zM1262 173h4v1h-4zM1262 313h1v1h-1zM1263 244h5v1h-5zM1263 314h2v1h-2zM1265 315h1v1h-1zM1266 172h13v1h-13zM1266 316h1v1h-1zM1267 317h3v1h-3zM1268 245h10v1h-10zM1270 318h5v1h-5zM1275 319h6v1h-6zM1278 246h10v1h-10zM1279 171h12v1h-12zM1281 320h6v1h-6zM1287 321h13v1h-13zM1288 247h10v1h-10zM1290 172h6v1h-6zM1296 171h12v1h-12zM1298 248h11v1h-11zM1300 322h2v1h-2zM1302 323h2v1h-2zM1304 324h2v1h-2zM1306 325h2v1h-2zM1308 170h12v1h-12zM1308 326h2v1h-2zM1309 249h5v1h-5zM1310 327h2v1h-2zM1312 328h1v1h-1zM1313 329h2v1h-2zM1314 250h6v1h-6zM1315 330h2v1h-2zM1317 331h2v1h-2zM1319 332h2v1h-2zM1320 169h12v1h-12zM1320 251h4v1h-4zM1321 333h2v1h-2zM1323 334h2v1h-2zM1324 252h3v1h-3zM1325 335h3v1h-3zM1327 253h4v1h-4zM1328 336h2v1h-2zM1330 337h2v1h-2zM1331 254h3v1h-3zM1332 168h25v1h-25zM1332 338h2v1h-2zM1334 255h3v1h-3zM1334 339h2v1h-2zM1336 340h1v1h-1zM1337 256h3v1h-3zM1337 341h2v1h-2zM1339 342h2v1h-2zM1340 257h4v1h-4zM1341 343h1v1h-1zM1342 344h1v1h-1zM1343 345h1v1h-1zM1344 258h3v1h-3zM1344 346h1v1h-1zM1345 347h2v1h-2zM1347 259h6v1h-6zM1347 348h1v1h-1zM1348 349h1v1h-1zM1349 350h2v1h-2zM1351 351h4v1h-4zM1353 260h6v1h-6zM1355 352h4v1h-4zM1357 169h1v1h-1zM1358 170h2v1h-2zM1359 261h2v1h-2zM1359 353h8v1h-8zM1360 171h1v1h-1zM1361 172h1v1h-1zM1361 262h2v1h-2zM1362 173h2v1h-2zM1363 263h2v1h-2zM1364 174h1v1h-1zM1365 175h1v1h-1zM1365 264h2v1h-2zM1366 176h1v1h-1zM1367 177h1v1h-1zM1367 265h1v1h-1zM1367 354h7v1h-7zM1368 178h1v1h-1zM1368 266h2v1h-2zM1369 179h1v2h-1zM1370 181h1v1h-1zM1370 267h2v1h-2zM1371 182h1v1h-1zM1372 183h1v1h-1zM1372 268h2v1h-2zM1373 184h1v1h-1zM1374 185h1v2h-1zM1374 269h2v1h-2zM1374 353h2v1h-2zM1375 187h1v2h-1zM1376 189h1v1h-1zM1376 270h1v1h-1zM1376 352h1v1h-1zM1377 190h1v2h-1zM1377 271h2v1h-2zM1377 351h2v1h-2zM1378 192h1v1h-1zM1379 193h1v2h-1zM1379 272h1v1h-1zM1379 350h2v1h-2zM1380 195h1v2h-1zM1380 273h2v1h-2zM1381 197h1v2h-1zM1381 349h1v1h-1zM1382 199h1v2h-1zM1382 274h1v1h-1zM1382 348h1v1h-1zM1383 201h1v3h-1zM1383 275h2v1h-2zM1383 346h1v2h-1zM1384 204h1v3h-1zM1384 345h1v1h-1zM1385 207h1v2h-1zM1385 276h2v1h-2zM1385 344h1v1h-1zM1386 209h1v3h-1zM1386 342h1v2h-1zM1387 212h1v3h-1zM1387 277h2v1h-2zM1387 341h1v1h-1zM1388 215h1v4h-1zM1388 339h1v2h-1zM1389 219h1v3h-1zM1389 278h2v1h-2zM1389 337h1v2h-1zM1390 222h1v2h-1zM1390 335h1v2h-1zM1391 224h1v2h-1zM1391 279h2v1h-2zM1391 333h1v2h-1zM1392 226h1v2h-1zM1392 331h1v2h-1zM1393 228h1v3h-1zM1393 280h3v1h-3zM1393 328h1v3h-1zM1394 231h1v2h-1zM1394 326h1v2h-1zM1395 233h1v2h-1zM1395 325h1v1h-1zM1396 235h1v2h-1zM1396 281h2v1h-2zM1396 323h1v2h-1zM1397 237h1v2h-1zM1397 322h1v1h-1zM1398 239h1v2h-1zM1398 282h3v1h-3zM1398 321h1v1h-1zM1399 241h1v2h-1zM1399 320h2v1h-2zM1400 243h1v2h-1zM1401 245h1v1h-1zM1401 283h4v1h-4zM1401 319h1v1h-1zM1402 246h1v2h-1zM1402 318h3v1h-3zM1403 248h1v2h-1zM1404 250h1v1h-1zM1405 251h2v1h-2zM1405 284h4v1h-4zM1405 317h4v1h-4zM1407 252h3v1h-3zM1409 285h6v1h-6zM1409 316h6v1h-6zM1410 253h4v1h-4zM1414 252h4v1h-4zM1415 284h6v1h-6zM1415 315h8v1h-8zM1418 251h10v1h-10zM1421 283h4v1h-4zM1423 314h14v1h-14zM1425 282h7v1h-7zM1428 250h9v1h-9zM1432 281h5v1h-5z" fill="#3cb371" shape-rendering="crispEdges"/>
<g shape-rendering="crispEdges">
<path d="M4 215v12h1v-12zM12 206v17h1v-17zM20 209v17h1v-17zM28 174v52h1v-52zM36 167v24h1v-24zM44 179v6h1v-6zM52 168v16h1v-16zM60 170v10h1v-10zM68 171v11h1v-11zM76 168v24h1v-24zM84 175v14h1v-14zM92 175v5h1v-5zM100 176v9h1v-9zM108 179v7h1v-7zM116 181v3h1v-3zM124 168v16h1v-16zM132 172v10h1v-10zM140 178v3h1v-3zM148 179v32h1v-32zM156 205v20h1v-20zM164 213v6h1v-6zM172 206v31h1v-31zM180 220v35h1v-35zM188 247v11h1v-11zM196 223v28h1v-28zM204 217v38h1v-38zM212 189v74h1v-74zM220 173v25h1v-25zM228 168v13h1v-13zM236 172v4h1v-4zM244 152v24h1v-24zM252 144v19h1v-19zM260 153v11h1v-11zM268 142v18h1v-18zM276 140v12h1v-12zM284 144v5h1v-5zM292 143v6h1v-6zM300 143v22h1v-22zM308 149v21h1v-21zM316 164v24h1v-24zM324 169v24h1v-24zM332 202v11h1v-11zM340 193v17h1v-17zM348 189v23h1v-23zM356 188v15h1v-15zM364 198v21h1v-21zM372 193v40h1v-40zM380 227v5h1v-5zM388 209v21h1v-21zM396 174v48h1v-48zM404 161v26h1v-26zM412 153v11h1v-11zM420 154v22h1v-22zM428 164v11h1v-11zM436 159v14h1v-14zM444 155v12h1v-12zM452 147v17h1v-17zM460 154v18h1v-18zM468 157v11h1v-11zM476 161v4h1v-4zM484 155v12h1v-12zM492 156v14h1v-14zM500 80v81h1v-81zM508 50v53h1v-53zM516 52v34h1v-34zM524 79v11h1v-11zM532 75v64h1v-64zM540 105v54h1v-54zM548 121v27h1v-27zM556 135v44h1v-44zM564 169v89h1v-89zM572 257v20h1v-20zM580 219v56h1v-56zM588 223v77h1v-77zM596 258v34h1v-34zM604 261v80h1v-80zM612 323v64h1v-64zM620 420v26h1v-26zM628 419v144h1v-144zM636 343v150h1v-150zM644 370v58h1v-58zM652 334v141h1v-141zM660 237v163h1v-163zM668 300v53h1v-53zM676 266v113h1v-113zM684 252v84h1v-84zM692 216v89h1v-89zM700 90v148h1v-148zM708 83v103h1v-103zM716 103v38h1v-38zM724 79v91h1v-91zM732 74v76h1v-76zM740 76v44h1v-44zM748 109v88h1v-88zM756 182v76h1v-76zM764 257v20h1v-20zM772 232v56h1v-56zM780 212v63h1v-63zM788 249v48h1v-48zM796 237v56h1v-56zM804 215v41h1v-41zM812 212v14h1v-14zM820 182v34h1v-34zM828 193v26h1v-26zM836 195v29h1v-29zM844 197v40h1v-40zM852 228v7h1v-7zM860 228v42h1v-42zM868 257v37h1v-37zM876 253v44h1v-44zM884 242v44h1v-44zM892 248v32h1v-32zM900 260v6h1v-6zM908 248v18h1v-18zM916 251v29h1v-29zM924 249v21h1v-21zM932 244v33h1v-33zM940 257v18h1v-18zM948 268v7h1v-7zM956 264v30h1v-30zM964 277v37h1v-37zM972 303v20h1v-20zM980 269v52h1v-52zM988 274v38h1v-38zM996 298v9h1v-9zM1004 289v21h1v-21zM1012 297v23h1v-23zM1020 318v22h1v-22zM1028 308v26h1v-26zM1036 305v25h1v-25zM1044 294v9h1v-9zM1052 257v47h1v-47zM1060 261v27h1v-27zM1068 280v25h1v-25zM1076 275v29h1v-29zM1084 272v28h1v-28zM1092 280v6h1v-6zM1100 269v21h1v-21zM1108 242v37h1v-37zM1116 247v31h1v-31zM1124 253v15h1v-15zM1132 257v21h1v-21zM1140 256v6h1v-6zM1148 256v8h1v-8zM1156 250v25h1v-25zM1164 249v27h1v-27zM1172 251v16h1v-16zM1180 251v39h1v-39zM1188 258v5h1v-5zM1196 253v23h1v-23zM1204 207v61h1v-61zM1212 198v29h1v-29zM1220 190v28h1v-28zM1228 160v39h1v-39zM1236 168v7h1v-7zM1244 171v65h1v-65zM1252 227v38h1v-38zM1260 252v46h1v-46zM1268 282v31h1v-31zM1276 267v46h1v-46zM1284 271v9h1v-9zM1292 269v24h1v-24zM1300 263v21h1v-21zM1308 272v28h1v-28zM1316 286v23h1v-23zM1324 290v14h1v-14zM1332 298v5h1v-5zM1340 292v12h1v-12zM1348 282v54h1v-54zM1356 286v36h1v-36zM1364 271v22h1v-22zM1372 276v27h1v-27zM1380 282v5h1v-5zM1388 250v42h1v-42zM1396 246v23h1v-23zM1404 239v39h1v-39zM1412 259v19h1v-19zM1420 266v7h1v-7zM1428 262v6h1v-6zM1436 257v25h1v-25z" fill="#000"/>
<path d="M2 217h5v3h-5zM10 210h5v10h-5zM18 210h5v11h-5zM26 181h5v40h-5zM34 181h5v5h-5zM42 182h5v2h-5zM50 173h5v10h-5zM58 173h5v4h-5zM66 174h5v3h-5zM74 174h5v9h-5zM82 178h5v5h-5zM90 177h5v3h-5zM98 177h5v6h-5zM106 182h5v2h-5zM114 182h5v2h-5zM122 175h5v8h-5zM130 175h5v7h-5zM138 180h5v1h-5zM146 179h5v28h-5zM154 206h5v13h-5zM162 214h5v3h-5zM170 213h5v9h-5zM178 221h5v26h-5zM186 249h5v6h-5zM194 227h5v21h-5zM202 227h5v20h-5zM210 198h5v48h-5zM218 177h5v21h-5zM226 176h5v2h-5zM234 174h5v2h-5zM242 153h5v22h-5zM250 153h5v8h-5zM258 159h5v2h-5zM266 145h5v15h-5zM274 145h5v2h-5zM282 146h5v3h-5zM290 146h5v1h-5zM298 145h5v12h-5zM306 157h5v10h-5zM314 166h5v8h-5zM322 173h5v15h-5zM330 204h5v6h-5zM338 204h5v6h-5zM346 193h5v11h-5zM354 194h5v6h-5zM362 200h5v6h-5zM370 204h5v27h-5zM378 228h5v3h-5zM386 217h5v12h-5zM394 179h5v40h-5zM402 162h5v17h-5zM410 155h5v8h-5zM418 155h5v11h-5zM426 167h5v5h-5zM434 164h5v7h-5zM442 161h5v3h-5zM450 159h5v3h-5zM458 160h5v5h-5zM466 164h5v1h-5zM474 163h5v2h-5zM482 161h5v4h-5zM490 157h5v5h-5zM498 98h5v60h-5zM506 62h5v35h-5zM514 61h5v19h-5zM522 83h5v4h-5zM530 81h5v34h-5zM538 114h5v27h-5zM546 137h5v3h-5zM554 136h5v36h-5zM562 170h5v84h-5zM570 261h5v15h-5zM578 222h5v36h-5zM586 224h5v66h-5zM594 259h5v31h-5zM602 263h5v65h-5zM610 327h5v50h-5zM618 435h5v11h-5zM626 433h5v42h-5zM634 383h5v91h-5zM642 385h5v23h-5zM650 401h5v3h-5zM658 239h5v161h-5zM666 316h5v6h-5zM674 316h5v14h-5zM682 276h5v53h-5zM690 229h5v47h-5zM698 93h5v137h-5zM706 92h5v8h-5zM714 104h5v33h-5zM722 116h5v20h-5zM730 101h5v15h-5zM738 102h5v14h-5zM746 113h5v82h-5zM754 192h5v65h-5zM762 262h5v10h-5zM770 244h5v27h-5zM778 242h5v28h-5zM786 269h5v11h-5zM794 245h5v35h-5zM802 234h5v12h-5zM810 213h5v13h-5zM818 194h5v20h-5zM826 194h5v22h-5zM834 203h5v12h-5zM842 203h5v24h-5zM850 229h5v1h-5zM858 230h5v34h-5zM866 263h5v25h-5zM874 265h5v23h-5zM882 249h5v16h-5zM890 249h5v17h-5zM898 261h5v3h-5zM906 260h5v2h-5zM914 259h5v3h-5zM922 254h5v4h-5zM930 254h5v9h-5zM938 261h5v12h-5zM946 269h5v3h-5zM954 269h5v11h-5zM962 279h5v26h-5zM970 303h5v8h-5zM978 280h5v30h-5zM986 279h5v21h-5zM994 300h5v6h-5zM1002 305h5v3h-5zM1010 307h5v12h-5zM1018 318h5v12h-5zM1026 323h5v6h-5zM1034 308h5v15h-5zM1042 296h5v3h-5zM1050 265h5v31h-5zM1058 265h5v21h-5zM1066 284h5v12h-5zM1074 276h5v20h-5zM1082 276h5v4h-5zM1090 281h5v2h-5zM1098 275h5v7h-5zM1106 255h5v19h-5zM1114 254h5v12h-5zM1122 263h5v2h-5zM1130 262h5v4h-5zM1138 258h5v3h-5zM1146 258h5v4h-5zM1154 260h5v10h-5zM1162 255h5v15h-5zM1170 255h5v9h-5zM1178 255h5v8h-5zM1186 258h5v3h-5zM1194 260h5v8h-5zM1202 208h5v58h-5zM1210 200h5v8h-5zM1218 193h5v7h-5zM1226 171h5v23h-5zM1234 171h5v3h-5zM1242 171h5v57h-5zM1250 228h5v28h-5zM1258 255h5v38h-5zM1266 292h5v11h-5zM1274 272h5v30h-5zM1282 271h5v8h-5zM1290 270h5v8h-5zM1298 269h5v6h-5zM1306 274h5v25h-5zM1314 293h5v6h-5zM1322 292h5v7h-5zM1330 300h5v1h-5zM1338 298h5v3h-5zM1346 297h5v23h-5zM1354 292h5v27h-5zM1362 286h5v6h-5zM1370 284h5v2h-5zM1378 283h5v3h-5zM1386 265h5v17h-5zM1394 250h5v15h-5zM1402 246h5v30h-5zM1410 269h5v6h-5zM1418 269h5v1h-5zM1426 265h5v3h-5zM1434 265h5v10h-5z" fill="#000"/>
<path d="M11 211h3v8h-3zM27 182h3v38h-3zM51 174h3v8h-3zM67 175h3v1h-3zM83 179h3v3h-3zM91 178h3v1h-3zM123 176h3v6h-3zM163 215h3v1h-3zM187 250h3v4h-3zM195 228h3v19h-3zM211 199h3v46h-3zM219 178h3v19h-3zM243 154h3v20h-3zM267 146h3v13h-3zM283 147h3v1h-3zM339 205h3v4h-3zM347 194h3v9h-3zM379 229h3v1h-3zM387 218h3v10h-3zM395 180h3v38h-3zM403 163h3v15h-3zM411 156h3v6h-3zM435 165h3v5h-3zM443 162h3v1h-3zM451 160h3v1h-3zM483 162h3v2h-3zM491 158h3v3h-3zM499 99h3v58h-3zM507 63h3v33h-3zM523 84h3v2h-3zM547 138h3v1h-3zM571 262h3v13h-3zM579 223h3v34h-3zM595 260h3v29h-3zM619 436h3v9h-3zM635 384h3v89h-3zM651 402h3v1h-3zM659 240h3v159h-3zM667 317h3v4h-3zM683 277h3v51h-3zM691 230h3v45h-3zM699 94h3v135h-3zM723 117h3v18h-3zM731 102h3v13h-3zM771 245h3v25h-3zM795 246h3v33h-3zM803 235h3v10h-3zM811 214h3v11h-3zM819 195h3v18h-3zM835 204h3v10h-3zM875 266h3v21h-3zM883 250h3v14h-3zM899 262h3v1h-3zM915 260h3v1h-3zM923 255h3v2h-3zM947 270h3v1h-3zM979 281h3v28h-3zM1027 324h3v4h-3zM1035 309h3v13h-3zM1043 297h3v1h-3zM1051 266h3v29h-3zM1075 277h3v18h-3zM1099 276h3v5h-3zM1107 256h3v17h-3zM1139 259h3v1h-3zM1163 256h3v13h-3zM1179 256h3v6h-3zM1203 209h3v56h-3zM1211 201h3v6h-3zM1219 194h3v5h-3zM1227 172h3v21h-3zM1235 172h3v1h-3zM1275 273h3v28h-3zM1291 271h3v6h-3zM1315 294h3v4h-3zM1339 299h3v1h-3zM1355 293h3v25h-3zM1363 287h3v4h-3zM1379 284h3v1h-3zM1387 266h3v15h-3zM1395 251h3v13h-3zM1411 270h3v4h-3zM1427 266h3v1h-3z" fill="#fff"/>
</g>
<rect x="1327" y="241" width="123" height="11" fill="#00ff00" shape-rendering="crispEdges"/>
<g stroke="#ff0000" stroke-width="3.5" fill="#ff0000" stroke-linecap="butt">
<line x1="1340.5" y1="329" x2="1404" y2="247.5"/>
<path d="M1405.8 244.8 L1396.2 251 L1402.8 258.2 Z" stroke="none"/>
<line x1="1405" y1="245.8" x2="1439" y2="270"/>
<path d="M1444.5 273.6 L1435.6 263.8 L1430.6 270.8 Z" stroke="none"/>
</g>
<rect x="1479.5" y="235.5" width="73" height="24" fill="#fff" stroke="#ff0000" stroke-width="1" shape-rendering="crispEdges"/>
<text transform="translate(1483.1,294) scale(1.035,0.96)" x="0" y="0" font-size="22" fill="#00ff00" font-family="&quot;Liberation Sans&quot;, &quot;Noto Sans CJK SC&quot;, sans-serif">多空转折点</text>
<g shape-rendering="crispEdges">
<path d="M20 636v1h1v-1zM28 634v3h1v-3zM36 633v4h1v-4zM44 631v6h1v-6zM52 628v9h1v-9zM60 626v11h1v-11zM68 625v12h1v-12zM76 625v12h1v-12zM84 624v13h1v-13zM92 624v13h1v-13zM100 625v12h1v-12zM108 625v12h1v-12zM116 625v12h1v-12zM124 625v12h1v-12zM132 625v12h1v-12zM140 627v10h1v-10zM148 631v6h1v-6zM156 635v2h1v-2zM172 636v3h1v-3zM180 636v9h1v-9zM188 636v14h1v-14zM196 636v15h1v-15zM204 636v16h1v-16zM212 636v13h1v-13zM220 636v7h1v-7zM228 636v2h1v-2zM244 631v6h1v-6zM252 627v10h1v-10zM260 624v13h1v-13zM268 621v16h1v-16zM276 618v19h1v-19zM284 616v21h1v-21zM292 615v22h1v-22zM300 616v21h1v-21zM308 618v19h1v-19zM316 620v17h1v-17zM324 624v13h1v-13zM332 631v6h1v-6zM340 634v3h1v-3zM364 636v3h1v-3zM372 636v8h1v-8zM380 636v12h1v-12zM388 636v13h1v-13zM396 636v10h1v-10zM404 636v5h1v-5zM412 636v1h1v-1zM420 634v3h1v-3zM428 633v4h1v-4zM436 631v6h1v-6zM444 629v8h1v-8zM452 628v9h1v-9zM460 627v10h1v-10zM468 627v10h1v-10zM476 627v10h1v-10zM484 626v11h1v-11zM492 626v11h1v-11zM500 618v19h1v-19zM508 608v29h1v-29zM516 603v34h1v-34zM524 599v38h1v-38zM532 601v36h1v-36zM540 606v31h1v-31zM548 611v26h1v-26zM556 617v20h1v-20zM564 633v4h1v-4zM572 636v9h1v-9zM580 636v15h1v-15zM588 636v27h1v-27zM596 636v33h1v-33zM604 636v46h1v-46zM612 636v61h1v-61zM620 636v79h1v-79zM628 636v98h1v-98zM636 636v100h1v-100zM644 636v103h1v-103zM652 636v104h1v-104zM660 636v84h1v-84zM668 636v76h1v-76zM676 636v71h1v-71zM684 636v60h1v-60zM692 636v45h1v-45zM700 636v16h1v-16zM708 631v6h1v-6zM716 618v19h1v-19zM724 606v31h1v-31zM732 595v42h1v-42zM740 588v49h1v-49zM748 593v44h1v-44zM756 605v32h1v-32zM764 617v20h1v-20zM772 623v14h1v-14zM780 631v6h1v-6zM796 636v2h1v-2zM804 636v2h1v-2zM820 633v4h1v-4zM828 631v6h1v-6zM836 630v7h1v-7zM844 632v5h1v-5zM852 634v3h1v-3zM860 635v2h1v-2zM868 636v8h1v-8zM876 636v10h1v-10zM884 636v10h1v-10zM892 636v13h1v-13zM900 636v13h1v-13zM908 636v13h1v-13zM916 636v13h1v-13zM924 636v13h1v-13zM932 636v14h1v-14zM940 636v14h1v-14zM948 636v15h1v-15zM956 636v15h1v-15zM964 636v21h1v-21zM972 636v24h1v-24zM980 636v23h1v-23zM988 636v24h1v-24zM996 636v26h1v-26zM1004 636v27h1v-27zM1012 636v29h1v-29zM1020 636v31h1v-31zM1028 636v32h1v-32zM1036 636v30h1v-30zM1044 636v26h1v-26zM1052 636v21h1v-21zM1060 636v18h1v-18zM1068 636v16h1v-16zM1076 636v13h1v-13zM1084 636v10h1v-10zM1092 636v8h1v-8zM1100 636v6h1v-6zM1108 636v2h1v-2zM1124 635v2h1v-2zM1132 634v3h1v-3zM1140 632v5h1v-5zM1148 631v6h1v-6zM1156 632v5h1v-5zM1164 631v6h1v-6zM1172 630v7h1v-7zM1180 629v8h1v-8zM1188 629v8h1v-8zM1196 631v6h1v-6zM1204 624v13h1v-13zM1212 618v19h1v-19zM1220 613v24h1v-24zM1228 606v31h1v-31zM1236 602v35h1v-35zM1244 605v32h1v-32zM1252 612v25h1v-25zM1260 622v15h1v-15zM1268 631v6h1v-6zM1276 634v3h1v-3zM1292 636v1h1v-1zM1300 636v5h1v-5zM1308 636v9h1v-9zM1316 636v12h1v-12zM1324 636v14h1v-14zM1332 636v16h1v-16zM1340 636v17h1v-17zM1348 636v21h1v-21zM1356 636v20h1v-20zM1364 636v18h1v-18zM1372 636v17h1v-17zM1380 636v15h1v-15zM1388 636v11h1v-11zM1396 636v6h1v-6zM1404 636v5h1v-5zM1412 636v4h1v-4zM1420 636v3h1v-3zM1428 636v1h1v-1zM1436 636v2h1v-2z" fill="#c0c0c0"/>
</g>
<path d="M0 628h3v1h-3zM6 629h3v1h-3zM12 630h3v1h-3zM18 631h3v1h-3zM24 632h1v1h-1zM25 633h2v1h-2zM30 633h3v1h-3zM36 633h3v1h-3zM42 633h3v1h-3zM48 633h1v1h-1zM49 632h2v1h-2zM54 632h3v1h-3zM60 631h3v1h-3zM66 630h3v1h-3zM72 629h3v1h-3zM78 629h1v1h-1zM79 628h2v1h-2zM84 628h3v1h-3zM90 627h3v1h-3zM96 626h3v1h-3zM102 626h1v1h-1zM103 625h2v1h-2zM108 625h3v1h-3zM114 624h3v1h-3zM120 624h3v1h-3zM126 624h3v1h-3zM132 624h3v1h-3zM138 624h3v1h-3zM144 624h2v1h-2zM146 625h1v1h-1zM150 625h3v1h-3zM156 626h2v1h-2zM158 627h1v1h-1zM162 628h3v1h-3zM168 629h3v1h-3zM174 630h3v1h-3zM180 632h2v1h-2zM182 633h1v1h-1zM186 635h2v1h-2zM188 636h1v1h-1zM192 637h2v1h-2zM194 638h1v1h-1zM198 639h3v1h-3zM204 641h3v1h-3zM210 642h1v1h-1zM211 643h2v1h-2zM216 644h3v1h-3zM222 645h3v1h-3zM228 645h3v1h-3zM234 645h3v1h-3zM240 644h3v1h-3zM246 643h3v1h-3zM252 642h1v1h-1zM253 641h2v1h-2zM258 640h1v1h-1zM259 639h2v1h-2zM264 637h2v1h-2zM266 636h1v1h-1zM270 635h1v1h-1zM271 634h2v1h-2zM276 632h2v1h-2zM278 631h1v1h-1zM282 629h2v1h-2zM284 628h1v1h-1zM288 626h2v1h-2zM290 625h1v1h-1zM294 623h2v1h-2zM296 622h1v1h-1zM300 621h2v1h-2zM302 620h1v1h-1zM306 619h3v1h-3zM312 618h3v1h-3zM318 618h3v1h-3zM324 618h3v1h-3zM330 618h1v1h-1zM331 619h2v1h-2zM336 619h3v1h-3zM342 620h1v1h-1zM343 621h2v1h-2zM348 622h3v1h-3zM354 624h3v1h-3zM360 625h1v1h-1zM361 626h2v1h-2zM366 628h2v1h-2zM368 629h1v1h-1zM372 630h1v1h-1zM373 631h2v1h-2zM378 633h2v1h-2zM380 634h1v1h-1zM384 636h2v1h-2zM386 637h1v1h-1zM390 638h3v1h-3zM396 639h1v1h-1zM397 640h2v1h-2zM402 640h3v1h-3zM408 641h3v1h-3zM414 641h3v1h-3zM420 641h3v1h-3zM426 641h3v1h-3zM432 641h2v1h-2zM434 640h1v1h-1zM438 639h1v1h-1zM439 638h2v1h-2zM444 637h1v1h-1zM445 636h2v1h-2zM450 635h3v1h-3zM456 634h1v1h-1zM457 633h2v1h-2zM462 632h2v1h-2zM464 631h1v1h-1zM468 630h3v1h-3zM474 629h1v1h-1zM475 628h2v1h-2zM480 628h3v1h-3zM486 627h3v1h-3zM492 627h3v1h-3zM498 626h2v1h-2zM500 625h1v1h-1zM504 624h1v1h-1zM505 623h2v1h-2zM510 621h2v1h-2zM512 620h1v1h-1zM516 619h3v1h-3zM522 617h3v1h-3zM528 615h3v1h-3zM534 613h3v1h-3zM540 612h1v1h-1zM541 611h2v1h-2zM546 610h3v1h-3zM552 609h3v1h-3zM558 609h3v1h-3zM564 609h2v1h-2zM566 610h1v1h-1zM570 610h1v1h-1zM571 611h2v1h-2zM576 614h2v1h-2zM578 615h1v1h-1zM582 618h1v1h-1zM583 619h1v1h-1zM584 620h1v1h-1zM588 623h1v1h-1zM589 624h1v1h-1zM590 625h1v1h-1zM594 629h1v1h-1zM595 630h1v1h-1zM596 631h1v1h-1zM600 635h1v1h-1zM601 636h1v1h-1zM602 637h1v1h-1zM605 641h1v1h-1zM606 642h1v1h-1zM606 643h1v1h-1zM609 647h1v1h-1zM610 648h1v1h-1zM611 649h1v1h-1zM613 653h1v1h-1zM614 654h1v1h-1zM615 655h1v1h-1zM618 659h1v1h-1zM618 660h1v1h-1zM619 661h1v1h-1zM622 665h1v1h-1zM623 666h1v1h-1zM623 667h1v1h-1zM625 671h1v1h-1zM626 672h1v1h-1zM627 673h1v1h-1zM629 677h1v1h-1zM629 678h1v1h-1zM630 679h1v1h-1zM633 683h1v1h-1zM633 684h1v1h-1zM634 685h1v1h-1zM636 689h1v1h-1zM637 690h1v1h-1zM638 691h1v1h-1zM642 695h1v1h-1zM642 696h1v1h-1zM643 697h1v1h-1zM647 701h1v1h-1zM648 702h1v1h-1zM649 703h1v1h-1zM652 707h1v1h-1zM653 708h1v1h-1zM654 709h1v1h-1zM658 713h2v1h-2zM660 714h1v1h-1zM664 717h1v1h-1zM665 718h2v1h-2zM670 720h1v1h-1zM671 721h2v1h-2zM676 722h3v1h-3zM682 722h2v1h-2zM684 721h1v1h-1zM688 720h1v1h-1zM689 719h2v1h-2zM694 716h1v1h-1zM695 715h1v1h-1zM696 714h1v1h-1zM699 710h1v1h-1zM700 708h1v1h-1zM700 709h1v1h-1zM703 704h1v1h-1zM704 703h1v1h-1zM705 702h1v1h-1zM708 698h1v1h-1zM709 696h1v1h-1zM709 697h1v1h-1zM712 692h1v1h-1zM713 690h1v1h-1zM713 691h1v1h-1zM716 685h1v1h-1zM716 686h1v1h-1zM717 684h1v1h-1zM719 680h1v1h-1zM720 678h1v1h-1zM720 679h1v1h-1zM723 673h1v1h-1zM723 674h1v1h-1zM724 672h1v1h-1zM726 668h1v1h-1zM727 666h1v1h-1zM727 667h1v1h-1zM729 662h1v1h-1zM730 660h1v1h-1zM730 661h1v1h-1zM732 656h1v1h-1zM733 654h1v1h-1zM733 655h1v1h-1zM736 649h1v1h-1zM736 650h1v1h-1zM737 648h1v1h-1zM739 644h1v1h-1zM740 643h1v1h-1zM741 642h1v1h-1zM743 637h1v1h-1zM743 638h1v1h-1zM744 636h1v1h-1zM746 631h1v1h-1zM746 632h1v1h-1zM747 630h1v1h-1zM749 626h1v1h-1zM750 625h1v1h-1zM751 624h1v1h-1zM754 620h1v1h-1zM755 619h1v1h-1zM756 618h1v1h-1zM760 614h1v1h-1zM761 613h1v1h-1zM762 612h1v1h-1zM766 610h1v1h-1zM767 609h2v1h-2zM772 608h3v1h-3zM778 607h3v1h-3zM784 608h1v1h-1zM785 609h2v1h-2zM790 610h2v1h-2zM792 611h1v1h-1zM796 612h1v1h-1zM797 613h2v1h-2zM802 615h1v1h-1zM803 616h2v1h-2zM808 619h2v1h-2zM810 620h1v1h-1zM814 623h1v1h-1zM815 624h1v1h-1zM816 625h1v1h-1zM820 628h2v1h-2zM822 629h1v1h-1zM826 630h3v1h-3zM832 631h1v1h-1zM833 632h2v1h-2zM838 632h1v1h-1zM839 633h2v1h-2zM844 633h3v1h-3zM850 634h3v1h-3zM856 634h3v1h-3zM862 635h3v1h-3zM868 635h3v1h-3zM874 636h3v1h-3zM880 636h1v1h-1zM881 637h2v1h-2zM886 637h1v1h-1zM887 638h2v1h-2zM892 639h2v1h-2zM894 640h1v1h-1zM898 641h2v1h-2zM900 642h1v1h-1zM904 643h3v1h-3zM910 644h3v1h-3zM916 645h3v1h-3zM922 646h3v1h-3zM928 648h3v1h-3zM934 649h3v1h-3zM940 649h3v1h-3zM946 649h3v1h-3zM952 650h3v1h-3zM958 650h2v1h-2zM960 651h1v1h-1zM964 651h2v1h-2zM966 652h1v1h-1zM970 652h1v1h-1zM971 653h2v1h-2zM976 654h3v1h-3zM982 655h3v1h-3zM988 655h3v1h-3zM994 656h3v1h-3zM1000 656h3v1h-3zM1006 657h1v1h-1zM1007 658h2v1h-2zM1012 659h3v1h-3zM1018 660h1v1h-1zM1019 661h2v1h-2zM1024 662h3v1h-3zM1030 662h2v1h-2zM1032 663h1v1h-1zM1036 663h3v1h-3zM1042 664h3v1h-3zM1048 664h3v1h-3zM1054 663h3v1h-3zM1060 663h3v1h-3zM1066 662h1v1h-1zM1067 661h2v1h-2zM1072 660h3v1h-3zM1078 659h1v1h-1zM1079 658h2v1h-2zM1084 657h3v1h-3zM1090 656h3v1h-3zM1096 654h2v1h-2zM1098 653h1v1h-1zM1102 651h3v1h-3zM1108 649h3v1h-3zM1114 647h3v1h-3zM1120 645h3v1h-3zM1126 644h1v1h-1zM1127 643h2v1h-2zM1132 642h2v1h-2zM1134 641h1v1h-1zM1138 640h3v1h-3zM1144 639h3v1h-3zM1150 638h1v1h-1zM1151 637h2v1h-2zM1156 636h3v1h-3zM1162 635h1v1h-1zM1163 634h2v1h-2zM1168 634h1v1h-1zM1169 633h2v1h-2zM1174 633h1v1h-1zM1175 632h2v1h-2zM1180 632h3v1h-3zM1186 631h3v1h-3zM1192 631h2v1h-2zM1194 630h1v1h-1zM1198 630h2v1h-2zM1200 629h1v1h-1zM1204 629h1v1h-1zM1205 628h2v1h-2zM1210 627h3v1h-3zM1216 626h1v1h-1zM1217 625h2v1h-2zM1222 624h2v1h-2zM1224 623h1v1h-1zM1228 622h2v1h-2zM1230 621h1v1h-1zM1234 620h1v1h-1zM1235 619h2v1h-2zM1240 617h2v1h-2zM1242 616h1v1h-1zM1246 615h1v1h-1zM1247 614h2v1h-2zM1252 614h1v1h-1zM1253 613h2v1h-2zM1258 613h3v1h-3zM1264 614h3v1h-3zM1270 614h2v1h-2zM1272 615h1v1h-1zM1276 616h3v1h-3zM1282 617h2v1h-2zM1284 618h1v1h-1zM1288 619h1v1h-1zM1289 620h2v1h-2zM1294 622h3v1h-3zM1300 624h2v1h-2zM1302 625h1v1h-1zM1306 628h2v1h-2zM1308 629h1v1h-1zM1312 631h1v1h-1zM1313 632h2v1h-2zM1318 634h1v1h-1zM1319 635h1v1h-1zM1320 636h1v1h-1zM1324 638h1v1h-1zM1325 639h2v1h-2zM1330 641h3v1h-3zM1336 643h3v1h-3zM1342 644h1v1h-1zM1343 645h2v1h-2zM1348 647h2v1h-2zM1350 648h1v1h-1zM1354 649h3v1h-3zM1360 650h3v1h-3zM1366 651h3v1h-3zM1372 652h3v1h-3zM1378 653h3v1h-3zM1384 653h3v1h-3zM1390 652h3v1h-3zM1396 652h2v1h-2zM1398 651h1v1h-1zM1402 651h3v1h-3zM1408 650h3v1h-3zM1414 649h1v1h-1zM1415 648h2v1h-2zM1420 647h2v1h-2zM1422 646h1v1h-1zM1426 645h3v1h-3zM1432 644h2v1h-2zM1434 643h1v1h-1z" fill="#ff0000" shape-rendering="crispEdges"/>
<g shape-rendering="crispEdges">
<line x1="3" y1="786.5" x2="1687" y2="786.5" stroke="#c0c0c0" stroke-width="1" stroke-dasharray="3 3"/>
<line x1="3" y1="837.5" x2="1687" y2="837.5" stroke="#c0c0c0" stroke-width="1" stroke-dasharray="3 3"/>
<line x1="3" y1="898.5" x2="1687" y2="898.5" stroke="#c0c0c0" stroke-width="1" stroke-dasharray="3 3"/>
</g>
<path d="M0 845h2v1h-2zM2 846h3v1h-3zM5 845h1v1h-1zM6 844h1v1h-1zM7 843h1v1h-1zM8 842h2v1h-2zM10 841h1v1h-1zM11 840h1v1h-1zM12 839h1v1h-1zM13 840h1v1h-1zM14 841h1v1h-1zM15 842h1v1h-1zM16 843h1v1h-1zM17 844h1v1h-1zM18 845h1v1h-1zM19 846h2v1h-2zM20 847h1v1h-1zM21 843h1v3h-1zM22 839h1v4h-1zM23 836h1v3h-1zM24 833h1v3h-1zM25 830h1v3h-1zM26 826h1v4h-1zM27 823h1v3h-1zM28 821h2v1h-2zM28 822h1v1h-1zM30 822h2v1h-2zM32 823h3v1h-3zM35 824h3v1h-3zM38 823h4v1h-4zM42 822h3v1h-3zM45 821h2v1h-2zM47 820h1v1h-1zM48 819h2v1h-2zM50 818h2v1h-2zM52 817h2v1h-2zM54 818h2v1h-2zM56 819h3v1h-3zM59 820h5v1h-5zM64 819h5v1h-5zM69 820h1v1h-1zM70 821h2v1h-2zM72 822h1v1h-1zM73 823h1v1h-1zM74 824h2v1h-2zM76 825h2v1h-2zM78 824h2v1h-2zM80 823h3v1h-3zM83 822h10v1h-10zM93 823h2v1h-2zM95 824h1v1h-1zM96 825h2v1h-2zM98 826h2v1h-2zM100 827h2v1h-2zM102 828h4v1h-4zM106 829h6v1h-6zM112 828h5v1h-5zM117 827h1v1h-1zM118 826h2v1h-2zM120 825h1v1h-1zM121 824h1v1h-1zM122 823h2v1h-2zM124 822h1v1h-1zM125 823h1v1h-1zM126 824h1v1h-1zM127 825h1v1h-1zM128 826h2v1h-2zM130 827h1v1h-1zM131 828h1v1h-1zM132 829h2v1h-2zM134 828h4v1h-4zM138 827h3v1h-3zM140 828h1v1h-1zM141 829h1v3h-1zM142 832h1v3h-1zM143 835h1v3h-1zM144 838h1v2h-1zM145 840h1v3h-1zM146 843h1v3h-1zM147 846h1v3h-1zM148 849h1v2h-1zM149 851h1v1h-1zM150 852h1v1h-1zM151 853h1v1h-1zM152 854h1v2h-1zM153 856h1v1h-1zM154 857h1v1h-1zM155 858h1v1h-1zM156 859h1v1h-1zM157 858h1v1h-1zM158 857h2v1h-2zM160 856h1v1h-1zM161 855h1v1h-1zM162 854h2v1h-2zM164 853h1v1h-1zM165 854h1v1h-1zM166 855h2v1h-2zM168 856h1v1h-1zM169 857h1v1h-1zM170 858h2v1h-2zM172 859h1v1h-1zM173 860h1v2h-1zM174 862h1v1h-1zM175 863h1v1h-1zM176 864h1v2h-1zM177 866h1v1h-1zM178 867h1v1h-1zM179 868h1v2h-1zM180 870h2v1h-2zM182 871h4v1h-4zM186 872h3v1h-3zM188 871h1v1h-1zM189 869h1v2h-1zM190 867h1v2h-1zM191 864h1v3h-1zM192 862h1v2h-1zM193 859h1v3h-1zM194 857h1v2h-1zM195 855h1v2h-1zM196 853h1v1h-1zM196 854h2v1h-2zM198 855h1v2h-1zM199 857h1v1h-1zM200 858h1v1h-1zM201 859h1v1h-1zM202 860h1v2h-1zM203 862h2v1h-2zM204 863h1v1h-1zM205 858h1v4h-1zM206 854h1v4h-1zM207 850h1v4h-1zM208 847h1v3h-1zM209 843h1v4h-1zM210 839h1v4h-1zM211 835h1v4h-1zM212 833h1v2h-1zM213 832h1v1h-1zM214 831h1v1h-1zM215 830h1v1h-1zM216 828h1v2h-1zM217 827h1v1h-1zM218 826h1v1h-1zM219 825h1v1h-1zM220 824h2v1h-2zM222 823h4v1h-4zM226 822h11v1h-11zM237 821h1v1h-1zM238 820h1v1h-1zM239 819h1v1h-1zM240 818h1v1h-1zM241 817h1v1h-1zM242 816h1v1h-1zM243 815h1v1h-1zM244 814h1v1h-1zM245 815h2v1h-2zM247 816h1v1h-1zM248 817h2v1h-2zM250 818h2v1h-2zM252 819h4v1h-4zM256 818h5v1h-5zM261 817h1v1h-1zM262 816h2v1h-2zM264 815h1v1h-1zM265 814h1v1h-1zM266 813h2v1h-2zM268 812h2v1h-2zM270 813h4v1h-4zM274 814h6v1h-6zM280 813h13v1h-13zM293 814h1v1h-1zM294 815h1v1h-1zM295 816h1v1h-1zM296 817h1v2h-1zM297 819h1v1h-1zM298 820h1v1h-1zM299 821h1v1h-1zM300 822h1v1h-1zM301 823h1v1h-1zM302 824h2v1h-2zM304 825h1v1h-1zM305 826h1v1h-1zM306 827h2v1h-2zM308 828h1v1h-1zM309 829h1v1h-1zM310 830h2v1h-2zM312 831h1v1h-1zM313 832h1v1h-1zM314 833h2v1h-2zM316 834h1v1h-1zM317 835h1v1h-1zM318 836h1v2h-1zM319 838h1v1h-1zM320 839h1v1h-1zM321 840h1v1h-1zM322 841h1v2h-1zM323 843h1v1h-1zM324 844h1v1h-1zM325 845h1v2h-1zM326 847h1v1h-1zM327 848h1v1h-1zM328 849h1v2h-1zM329 851h1v1h-1zM330 852h1v1h-1zM331 853h1v2h-1zM332 855h1v1h-1zM333 854h2v1h-2zM335 853h2v1h-2zM337 852h2v1h-2zM339 851h2v1h-2zM341 850h1v1h-1zM342 849h1v1h-1zM343 848h1v1h-1zM344 847h2v1h-2zM346 846h1v1h-1zM347 845h1v1h-1zM348 844h2v1h-2zM350 845h2v1h-2zM352 846h3v1h-3zM355 847h2v1h-2zM357 848h2v1h-2zM359 849h2v1h-2zM361 850h2v1h-2zM363 851h2v1h-2zM365 852h1v2h-1zM366 854h1v1h-1zM367 855h1v2h-1zM368 857h1v1h-1zM369 858h1v2h-1zM370 860h1v1h-1zM371 861h1v2h-1zM372 863h4v1h-4zM376 862h5v1h-5zM381 861h1v1h-1zM382 860h1v1h-1zM383 859h1v1h-1zM384 857h1v2h-1zM385 856h1v1h-1zM386 855h1v1h-1zM387 854h1v1h-1zM388 852h1v2h-1zM389 849h1v3h-1zM390 846h1v3h-1zM391 843h1v3h-1zM392 841h1v2h-1zM393 838h1v3h-1zM394 835h1v3h-1zM395 832h1v3h-1zM396 830h1v2h-1zM397 829h1v1h-1zM398 828h1v1h-1zM399 827h1v1h-1zM400 825h1v2h-1zM401 824h1v1h-1zM402 823h1v1h-1zM403 822h1v1h-1zM404 821h4v1h-4zM408 820h5v1h-5zM413 821h1v1h-1zM414 822h2v1h-2zM416 823h1v1h-1zM417 824h1v1h-1zM418 825h2v1h-2zM420 826h2v1h-2zM422 827h2v1h-2zM424 828h3v1h-3zM427 829h3v1h-3zM430 828h2v1h-2zM432 827h3v1h-3zM435 826h3v1h-3zM438 825h4v1h-4zM442 824h12v1h-12zM454 825h2v1h-2zM456 826h3v1h-3zM459 827h13v1h-13zM472 826h8v1h-8zM480 825h5v1h-5zM485 824h2v1h-2zM487 823h2v1h-2zM489 822h2v1h-2zM491 821h2v1h-2zM492 820h1v1h-1zM493 817h1v3h-1zM494 814h1v3h-1zM495 811h1v3h-1zM496 807h1v4h-1zM497 804h1v3h-1zM498 801h1v3h-1zM499 798h1v3h-1zM500 796h1v2h-1zM501 795h1v1h-1zM502 794h1v1h-1zM503 793h1v1h-1zM504 791h1v2h-1zM505 790h1v1h-1zM506 789h1v1h-1zM507 788h1v1h-1zM508 787h1v1h-1zM509 788h1v2h-1zM510 790h1v1h-1zM511 791h1v2h-1zM512 793h1v1h-1zM513 794h1v2h-1zM514 796h1v1h-1zM515 797h1v2h-1zM516 799h2v1h-2zM518 800h4v1h-4zM522 801h3v1h-3zM524 802h1v1h-1zM525 803h1v2h-1zM526 805h1v2h-1zM527 807h1v3h-1zM528 810h1v2h-1zM529 812h1v3h-1zM530 815h1v2h-1zM531 817h1v2h-1zM532 819h1v2h-1zM533 821h1v2h-1zM534 823h1v2h-1zM535 825h1v2h-1zM536 827h1v1h-1zM537 828h1v2h-1zM538 830h1v2h-1zM539 832h1v2h-1zM540 834h4v1h-4zM544 833h5v1h-5zM549 834h1v2h-1zM550 836h1v2h-1zM551 838h1v2h-1zM552 840h1v1h-1zM553 841h1v2h-1zM554 843h1v2h-1zM555 845h1v2h-1zM556 847h1v2h-1zM557 849h1v3h-1zM558 852h1v2h-1zM559 854h1v3h-1zM560 857h1v3h-1zM561 860h1v3h-1zM562 863h1v2h-1zM563 865h1v3h-1zM564 868h1v1h-1zM564 869h2v1h-2zM566 870h4v1h-4zM570 871h3v1h-3zM573 869h1v2h-1zM574 867h1v2h-1zM575 865h1v2h-1zM576 863h1v2h-1zM577 861h1v2h-1zM578 859h1v2h-1zM579 857h1v2h-1zM580 855h1v1h-1zM580 856h2v1h-2zM581 857h1v1h-1zM582 858h1v2h-1zM583 860h1v2h-1zM584 862h1v1h-1zM585 863h1v2h-1zM586 865h1v2h-1zM587 867h1v2h-1zM588 869h1v1h-1zM589 867h1v2h-1zM590 866h1v1h-1zM591 865h1v1h-1zM592 863h1v2h-1zM593 862h1v1h-1zM594 861h1v1h-1zM595 859h1v2h-1zM596 858h1v1h-1zM597 859h1v2h-1zM598 861h1v1h-1zM599 862h1v1h-1zM600 863h1v2h-1zM601 865h1v1h-1zM602 866h1v1h-1zM603 867h1v2h-1zM604 869h1v1h-1zM605 870h1v1h-1zM606 871h2v1h-2zM608 872h1v1h-1zM609 873h1v1h-1zM610 874h2v1h-2zM612 875h1v1h-1zM613 876h1v1h-1zM614 877h2v1h-2zM616 878h1v1h-1zM617 879h1v1h-1zM618 880h2v1h-2zM620 881h1v1h-1zM621 882h2v1h-2zM623 883h1v1h-1zM624 884h2v1h-2zM626 885h3v1h-3zM628 886h1v1h-1zM629 882h1v3h-1zM630 879h1v3h-1zM631 876h1v3h-1zM632 873h1v3h-1zM633 870h1v3h-1zM634 867h1v3h-1zM635 864h1v3h-1zM636 862h2v1h-2zM636 863h1v1h-1zM638 863h2v1h-2zM640 864h3v1h-3zM643 865h3v1h-3zM646 864h4v1h-4zM650 863h3v1h-3zM652 862h1v1h-1zM653 858h1v4h-1zM654 854h1v4h-1zM655 850h1v4h-1zM656 847h1v3h-1zM657 843h1v4h-1zM658 839h1v4h-1zM659 835h1v4h-1zM660 833h1v1h-1zM660 834h2v1h-2zM661 835h1v1h-1zM662 836h1v1h-1zM663 837h1v1h-1zM664 838h1v2h-1zM665 840h1v1h-1zM666 841h1v1h-1zM667 842h1v2h-1zM668 844h2v1h-2zM670 845h4v1h-4zM674 846h3v1h-3zM677 845h1v1h-1zM678 844h1v1h-1zM679 843h1v1h-1zM680 841h1v2h-1zM681 840h1v1h-1zM682 839h1v1h-1zM683 838h1v1h-1zM684 837h1v1h-1zM685 836h1v1h-1zM686 835h2v1h-2zM688 834h1v1h-1zM689 833h1v1h-1zM690 832h2v1h-2zM692 830h1v2h-1zM693 828h1v2h-1zM694 826h1v2h-1zM695 824h1v2h-1zM696 822h1v2h-1zM697 820h1v2h-1zM698 818h1v2h-1zM699 816h1v2h-1zM700 814h2v1h-2zM700 815h1v1h-1zM702 815h2v1h-2zM704 816h3v1h-3zM707 817h2v1h-2zM709 818h1v1h-1zM710 819h2v1h-2zM712 820h1v1h-1zM713 821h1v1h-1zM714 822h2v1h-2zM716 823h2v1h-2zM718 822h2v1h-2zM720 821h3v1h-3zM723 820h5v1h-5zM728 819h6v1h-6zM734 820h4v1h-4zM738 821h3v1h-3zM741 822h1v2h-1zM742 824h1v2h-1zM743 826h1v2h-1zM744 828h1v1h-1zM745 829h1v2h-1zM746 831h1v2h-1zM747 833h1v2h-1zM748 835h1v1h-1zM749 836h1v1h-1zM750 837h1v1h-1zM751 838h1v1h-1zM752 839h1v1h-1zM753 840h1v1h-1zM754 841h1v1h-1zM755 842h1v1h-1zM756 843h2v1h-2zM758 844h2v1h-2zM760 845h3v1h-3zM763 846h2v1h-2zM765 845h2v1h-2zM767 844h1v1h-1zM768 843h2v1h-2zM770 842h2v1h-2zM772 841h1v1h-1zM773 842h2v1h-2zM775 843h2v1h-2zM777 844h2v1h-2zM779 845h5v1h-5zM784 846h5v1h-5zM789 845h1v1h-1zM790 844h2v1h-2zM792 843h1v1h-1zM793 842h1v1h-1zM794 841h2v1h-2zM796 840h2v1h-2zM798 839h2v1h-2zM800 838h3v1h-3zM803 837h3v1h-3zM806 836h2v1h-2zM808 835h3v1h-3zM811 834h3v1h-3zM814 833h2v1h-2zM816 832h3v1h-3zM819 831h2v1h-2zM821 832h2v1h-2zM823 833h2v1h-2zM825 834h2v1h-2zM827 835h3v1h-3zM830 834h4v1h-4zM834 833h3v1h-3zM837 834h2v1h-2zM839 835h2v1h-2zM841 836h2v1h-2zM843 837h3v1h-3zM846 838h4v1h-4zM850 839h3v1h-3zM853 840h1v1h-1zM854 841h1v1h-1zM855 842h1v1h-1zM856 843h2v1h-2zM858 844h1v1h-1zM859 845h1v1h-1zM860 846h1v1h-1zM861 847h2v1h-2zM863 848h2v1h-2zM865 849h2v1h-2zM867 850h2v1h-2zM869 849h1v1h-1zM870 848h2v1h-2zM872 847h1v1h-1zM873 846h1v1h-1zM874 845h2v1h-2zM876 844h2v1h-2zM878 843h2v1h-2zM880 842h3v1h-3zM883 841h3v1h-3zM886 842h2v1h-2zM888 843h3v1h-3zM891 844h5v1h-5zM896 843h22v1h-22zM918 842h4v1h-4zM922 841h4v1h-4zM926 842h2v1h-2zM928 843h3v1h-3zM931 844h3v1h-3zM934 845h2v1h-2zM936 846h3v1h-3zM939 847h3v1h-3zM942 846h4v1h-4zM946 845h3v1h-3zM949 846h2v1h-2zM951 847h2v1h-2zM953 848h2v1h-2zM955 849h2v1h-2zM957 850h1v1h-1zM958 851h1v1h-1zM959 852h1v1h-1zM960 853h2v1h-2zM962 854h1v1h-1zM963 855h1v1h-1zM964 856h2v1h-2zM966 857h4v1h-4zM970 858h3v1h-3zM973 856h1v2h-1zM974 854h1v2h-1zM975 853h1v1h-1zM976 851h1v2h-1zM977 850h1v1h-1zM978 848h1v2h-1zM979 846h1v2h-1zM980 845h1v1h-1zM981 846h1v1h-1zM982 847h2v1h-2zM984 848h1v1h-1zM985 849h1v1h-1zM986 850h2v1h-2zM988 851h2v1h-2zM990 852h4v1h-4zM994 853h11v1h-11zM1005 854h2v1h-2zM1007 855h2v1h-2zM1009 856h2v1h-2zM1011 857h3v1h-3zM1014 858h2v1h-2zM1016 859h3v1h-3zM1019 860h3v1h-3zM1022 859h2v1h-2zM1024 858h3v1h-3zM1027 857h2v1h-2zM1029 856h1v1h-1zM1030 855h1v1h-1zM1031 854h1v1h-1zM1032 852h1v2h-1zM1033 851h1v1h-1zM1034 850h1v1h-1zM1035 849h1v1h-1zM1036 848h1v1h-1zM1037 847h2v1h-2zM1039 846h2v1h-2zM1041 845h2v1h-2zM1043 844h2v1h-2zM1045 842h1v2h-1zM1046 840h1v2h-1zM1047 839h1v1h-1zM1048 837h1v2h-1zM1049 836h1v1h-1zM1050 834h1v2h-1zM1051 832h1v2h-1zM1052 831h1v1h-1zM1053 832h1v1h-1zM1054 833h1v1h-1zM1055 834h1v1h-1zM1056 835h1v1h-1zM1057 836h1v1h-1zM1058 837h1v1h-1zM1059 838h1v1h-1zM1060 839h1v1h-1zM1061 840h2v1h-2zM1063 841h2v1h-2zM1065 842h2v1h-2zM1067 843h2v1h-2zM1069 842h1v1h-1zM1070 841h1v1h-1zM1071 840h1v1h-1zM1072 839h1v1h-1zM1073 838h1v1h-1zM1074 837h1v1h-1zM1075 836h1v1h-1zM1076 835h4v1h-4zM1080 836h6v1h-6zM1086 837h4v1h-4zM1090 838h3v1h-3zM1093 837h2v1h-2zM1095 836h2v1h-2zM1097 835h2v1h-2zM1099 834h2v1h-2zM1101 833h1v1h-1zM1102 832h1v1h-1zM1103 831h1v1h-1zM1104 830h1v1h-1zM1105 829h1v1h-1zM1106 828h1v1h-1zM1107 827h1v1h-1zM1108 826h1v1h-1zM1109 827h2v1h-2zM1111 828h1v1h-1zM1112 829h2v1h-2zM1114 830h2v1h-2zM1116 831h4v1h-4zM1120 830h6v1h-6zM1126 831h4v1h-4zM1130 832h3v1h-3zM1133 831h2v1h-2zM1135 830h2v1h-2zM1137 829h2v1h-2zM1139 828h3v1h-3zM1142 829h4v1h-4zM1146 830h3v1h-3zM1149 831h2v1h-2zM1151 832h1v1h-1zM1152 833h2v1h-2zM1154 834h2v1h-2zM1156 835h1v1h-1zM1157 834h1v1h-1zM1158 833h1v1h-1zM1159 832h1v1h-1zM1160 831h2v1h-2zM1162 830h1v1h-1zM1163 829h1v1h-1zM1164 828h1v1h-1zM1165 829h2v1h-2zM1167 830h2v1h-2zM1169 831h2v1h-2zM1171 832h2v1h-2zM1173 831h2v1h-2zM1175 830h2v1h-2zM1177 829h2v1h-2zM1179 828h3v1h-3zM1182 829h2v1h-2zM1184 830h3v1h-3zM1187 831h2v1h-2zM1189 832h2v1h-2zM1191 833h1v1h-1zM1192 834h2v1h-2zM1194 835h3v1h-3zM1196 836h1v1h-1zM1197 832h1v3h-1zM1198 828h1v4h-1zM1199 825h1v3h-1zM1200 822h1v3h-1zM1201 819h1v3h-1zM1202 815h1v4h-1zM1203 812h1v3h-1zM1204 810h2v1h-2zM1204 811h1v1h-1zM1206 809h2v1h-2zM1208 808h3v1h-3zM1211 807h3v1h-3zM1214 806h4v1h-4zM1218 805h3v1h-3zM1221 804h1v1h-1zM1222 803h2v1h-2zM1224 802h1v1h-1zM1225 801h1v1h-1zM1226 800h2v1h-2zM1228 799h9v1h-9zM1236 800h1v1h-1zM1237 801h1v4h-1zM1238 805h1v4h-1zM1239 809h1v4h-1zM1240 813h1v3h-1zM1241 816h1v4h-1zM1242 820h1v4h-1zM1243 824h1v4h-1zM1244 828h1v2h-1zM1245 830h1v2h-1zM1246 832h1v1h-1zM1247 833h1v2h-1zM1248 835h1v1h-1zM1249 836h1v2h-1zM1250 838h1v1h-1zM1251 839h1v2h-1zM1252 841h1v1h-1zM1253 842h1v2h-1zM1254 844h1v2h-1zM1255 846h1v1h-1zM1256 847h1v2h-1zM1257 849h1v1h-1zM1258 850h1v2h-1zM1259 852h1v2h-1zM1260 854h2v1h-2zM1262 855h2v1h-2zM1264 856h3v1h-3zM1267 857h2v1h-2zM1269 855h1v2h-1zM1270 854h1v1h-1zM1271 852h1v2h-1zM1272 851h1v1h-1zM1273 849h1v2h-1zM1274 848h1v1h-1zM1275 846h1v2h-1zM1276 845h4v1h-4zM1280 846h6v1h-6zM1286 845h2v1h-2zM1288 844h3v1h-3zM1291 843h3v1h-3zM1294 844h4v1h-4zM1298 845h3v1h-3zM1301 846h1v1h-1zM1302 847h1v1h-1zM1303 848h1v1h-1zM1304 849h1v1h-1zM1305 850h1v1h-1zM1306 851h1v1h-1zM1307 852h1v1h-1zM1308 853h2v1h-2zM1310 852h2v1h-2zM1312 851h3v1h-3zM1315 850h3v1h-3zM1318 851h4v1h-4zM1322 852h6v1h-6zM1328 853h6v1h-6zM1334 852h4v1h-4zM1338 851h3v1h-3zM1341 852h1v1h-1zM1342 853h1v1h-1zM1343 854h1v1h-1zM1344 855h1v2h-1zM1345 857h1v1h-1zM1346 858h1v1h-1zM1347 859h1v1h-1zM1348 860h1v1h-1zM1349 858h1v2h-1zM1350 856h1v2h-1zM1351 854h1v2h-1zM1352 852h1v2h-1zM1353 850h1v2h-1zM1354 848h1v2h-1zM1355 846h1v2h-1zM1356 845h2v1h-2zM1358 844h2v1h-2zM1360 843h3v1h-3zM1363 842h13v1h-13zM1376 841h5v1h-5zM1381 840h1v1h-1zM1382 839h1v1h-1zM1383 838h1v1h-1zM1384 836h1v2h-1zM1385 835h1v1h-1zM1386 834h1v1h-1zM1387 833h1v1h-1zM1388 832h1v1h-1zM1389 831h1v1h-1zM1390 830h1v1h-1zM1391 829h1v1h-1zM1392 828h1v1h-1zM1393 827h1v1h-1zM1394 826h1v1h-1zM1395 825h1v1h-1zM1396 824h1v1h-1zM1397 825h1v2h-1zM1398 827h1v2h-1zM1399 829h1v2h-1zM1400 831h1v1h-1zM1401 832h1v2h-1zM1402 834h1v2h-1zM1403 836h1v2h-1zM1404 838h2v1h-2zM1406 837h4v1h-4zM1410 836h12v1h-12zM1422 835h4v1h-4zM1426 834h3v1h-3zM1429 835h2v1h-2zM1431 836h2v1h-2zM1433 837h2v1h-2zM1435 838h2v1h-2z" fill="#1e90ff" shape-rendering="crispEdges"/>
<g shape-rendering="crispEdges" fill="#000">
<rect x="1688" y="45" width="2" height="1"/>
<rect x="1688" y="78" width="2" height="1"/>
<rect x="1688" y="111" width="2" height="1"/>
<rect x="1688" y="144" width="2" height="1"/>
<rect x="1688" y="177" width="2" height="1"/>
<rect x="1688" y="210" width="2" height="1"/>
<rect x="1688" y="243" width="2" height="1"/>
<rect x="1688" y="276" width="2" height="1"/>
<rect x="1688" y="309" width="2" height="1"/>
<rect x="1688" y="342" width="2" height="1"/>
<rect x="1688" y="375" width="2" height="1"/>
<rect x="1688" y="408" width="2" height="1"/>
<rect x="1688" y="441" width="2" height="1"/>
<rect x="1688" y="474" width="2" height="1"/>
<rect x="1688" y="507" width="2" height="1"/>
<rect x="1688" y="540" width="2" height="1"/>
<rect x="1688" y="573" width="2" height="1"/>
<rect x="1688" y="580" width="2" height="1"/>
<rect x="1688" y="636" width="2" height="1"/>
<rect x="1688" y="746" width="2" height="1"/>
<rect x="1688" y="752" width="2" height="1"/>
<rect x="1688" y="786" width="2" height="1"/>
<rect x="1688" y="837" width="2" height="1"/>
<rect x="1688" y="898" width="2" height="1"/>
<rect x="1688" y="922" width="2" height="1"/>
<rect x="60" y="925" width="1" height="3"/>
<rect x="124" y="925" width="1" height="3"/>
<rect x="188" y="925" width="1" height="3"/>
<rect x="252" y="925" width="1" height="3"/>
<rect x="316" y="925" width="1" height="3"/>
<rect x="380" y="925" width="1" height="3"/>
<rect x="444" y="925" width="1" height="3"/>
<rect x="508" y="925" width="1" height="3"/>
<rect x="572" y="925" width="1" height="3"/>
<rect x="636" y="925" width="1" height="3"/>
<rect x="700" y="925" width="1" height="3"/>
<rect x="764" y="925" width="1" height="3"/>
<rect x="828" y="925" width="1" height="3"/>
<rect x="892" y="925" width="1" height="3"/>
<rect x="956" y="925" width="1" height="3"/>
<rect x="1020" y="925" width="1" height="3"/>
<rect x="1084" y="925" width="1" height="3"/>
<rect x="1148" y="925" width="1" height="3"/>
<rect x="1212" y="925" width="1" height="3"/>
<rect x="1276" y="925" width="1" height="3"/>
<rect x="1340" y="925" width="1" height="3"/>
<rect x="1404" y="925" width="1" height="3"/>
</g>
<path d="M1444 24h9v1h-9zM1445 25h7v1h-7zM1446 26h5v1h-5zM1447 27h3v1h-3zM1448 28h1v1h-1z" fill="#c0c0c0" shape-rendering="crispEdges"/>
</svg>
<div class="t " style="left:1693px;top:40px;">112.330</div>
<div class="t " style="left:1693px;top:73px;">111.610</div>
<div class="t " style="left:1693px;top:106px;">110.910</div>
<div class="t " style="left:1693px;top:139px;">110.190</div>
<div class="t " style="left:1693px;top:172px;">109.490</div>
<div class="t " style="left:1693px;top:205px;">108.770</div>
<div class="t " style="left:1693px;top:238px;">108.070</div>
<div class="t " style="left:1693px;top:271px;">107.350</div>
<div class="t " style="left:1693px;top:304px;">106.630</div>
<div class="t " style="left:1693px;top:337px;">105.930</div>
<div class="t " style="left:1693px;top:370px;">105.210</div>
<div class="t " style="left:1693px;top:403px;">104.510</div>
<div class="t " style="left:1693px;top:436px;">103.790</div>
<div class="t " style="left:1693px;top:469px;">103.070</div>
<div class="t " style="left:1693px;top:502px;">102.370</div>
<div class="t " style="left:1693px;top:535px;">101.650</div>
<div class="t " style="left:1693px;top:568px;">100.950</div>
<div class="pl" style="top:194px;background:#ff0000"></div>
<div class="t w" style="left:1693px;top:194px;">108.982</div>
<div class="pl" style="top:215px;background:#ff0000"></div>
<div class="t w" style="left:1693px;top:215px;">108.530</div>
<div class="pl" style="top:241px;background:#32cd32"></div>
<div class="t w" style="left:1693px;top:241px;">107.971</div>
<div class="pl" style="top:270px;background:#000000"></div>
<div class="t w" style="left:1693px;top:270px;">107.359</div>
<div class="pl" style="top:294px;background:#0000ff"></div>
<div class="t w" style="left:1693px;top:294px;">106.830</div>
<div class="pl" style="top:317px;background:#0000ff"></div>
<div class="t w" style="left:1693px;top:317px;">106.335</div>
<div class="big">107.971</div>
<div class="t " style="left:1691px;top:580px;">0.8034</div>
<div class="t " style="left:1691px;top:631px;">0.00</div>
<div class="t " style="left:1691px;top:737px;">-1.5784</div>
<div class="t " style="left:1691px;top:753px;">100</div>
<div class="t " style="left:1691px;top:781px;">80</div>
<div class="t " style="left:1691px;top:832px;">50</div>
<div class="t " style="left:1691px;top:893px;">15</div>
<div class="t " style="left:1691px;top:912px;">0</div>
<div class="t " style="left:-5px;top:928px;">8 Dec 2019</div>
<div class="t " style="left:59px;top:928px;">17 Dec 2019</div>
<div class="t " style="left:123px;top:928px;">26 Dec 2019</div>
<div class="t " style="left:187px;top:928px;">5 Jan 2020</div>
<div class="t " style="left:251px;top:928px;">14 Jan 2020</div>
<div class="t " style="left:315px;top:928px;">23 Jan 2020</div>
<div class="t " style="left:379px;top:928px;">2 Feb 2020</div>
<div class="t " style="left:443px;top:928px;">11 Feb 2020</div>
<div class="t " style="left:507px;top:928px;">20 Feb 2020</div>
<div class="t " style="left:571px;top:928px;">1 Mar 2020</div>
<div class="t " style="left:635px;top:928px;">10 Mar 2020</div>
<div class="t " style="left:699px;top:928px;">19 Mar 2020</div>
<div class="t " style="left:763px;top:928px;">29 Mar 2020</div>
<div class="t " style="left:827px;top:928px;">7 Apr 2020</div>
<div class="t " style="left:891px;top:928px;">17 Apr 2020</div>
<div class="t " style="left:955px;top:928px;">27 Apr 2020</div>
<div class="t " style="left:1019px;top:928px;">6 May 2020</div>
<div class="t " style="left:1083px;top:928px;">15 May 2020</div>
<div class="t " style="left:1147px;top:928px;">25 May 2020</div>
<div class="t " style="left:1211px;top:928px;">3 Jun 2020</div>
<div class="t " style="left:1275px;top:928px;">12 Jun 2020</div>
<div class="t " style="left:1339px;top:928px;">22 Jun 2020</div>
<div class="t " style="left:1403px;top:928px;">1 Jul 2020</div>
<div class="t title" style="left:11px;top:26px;">USDJPY-,Daily&nbsp; 107.590 107.765 107.250 107.359</div>
<div class="t m" style="left:1px;top:582px;">MACD(12,26,9) -0.0208 -0.0958</div>
<div class="t " style="left:1px;top:754px;">RSI(14) 49.0523</div>
<div id="toolbar"><svg width="1734" height="19" viewBox="0 0 1734 19" style="position:absolute;left:0;top:0"><defs>
<pattern id="chk" width="2" height="2" patternUnits="userSpaceOnUse"><rect width="2" height="2" fill="#f0f0f0"/><rect width="1" height="1" fill="#fafafa"/><rect x="1" y="1" width="1" height="1" fill="#fafafa"/></pattern>
<linearGradient id="gold" x1="0" y1="0" x2="1" y2="1"><stop offset="0" stop-color="#f8d840"/><stop offset="1" stop-color="#c08810"/></linearGradient>
<linearGradient id="grn" x1="0" y1="0" x2="0" y2="1"><stop offset="0" stop-color="#7cff7c"/><stop offset="0.55" stop-color="#22d822"/><stop offset="1" stop-color="#12a812"/></linearGradient>
<radialGradient id="lens" cx="0.4" cy="0.35" r="0.7"><stop offset="0" stop-color="#f4fbff"/><stop offset="1" stop-color="#bfe2f4"/></radialGradient>
</defs>
<rect x="-3" y="-3" width="13.3" height="16.3" rx="1" fill="#fff" stroke="#3a7abd" stroke-width="1.3"/>
<rect x="2" y="1.8000000000000003" width="7.5" height="0.9" fill="#c4d8f8"/><rect x="0" y="1.7000000000000002" width="1.2" height="1" fill="#f01010"/>
<rect x="2" y="3.9" width="7.5" height="0.9" fill="#c4d8f8"/><rect x="0" y="3.8" width="1.2" height="1" fill="#205010"/>
<rect x="2" y="5.8999999999999995" width="7.5" height="0.9" fill="#c4d8f8"/><rect x="0" y="5.8" width="1.2" height="1" fill="#303020"/>
<rect x="2" y="8.0" width="7.5" height="0.9" fill="#c4d8f8"/><rect x="0" y="7.9" width="1.2" height="1" fill="#f01010"/>
<rect x="23.5" y="-2" width="11.8" height="14.5" fill="#fff" stroke="#b4ac98" stroke-width="0.9"/>
<path d="M25.5 6 l1.2 -4.5 l2 2.5 l2.5 -3 l2 3" fill="none" stroke="#606060" stroke-width="0.9"/>
<line x1="35.5" y1="12" x2="40" y2="15.6" stroke="#a87c10" stroke-width="3.2"/><line x1="35.7" y1="12.2" x2="39.8" y2="15.4" stroke="#e0b830" stroke-width="1.8"/>
<circle cx="31.6" cy="8.4" r="4.8" fill="#dcebf6" fill-opacity="0.85" stroke="#5b8fd8" stroke-width="1"/>
<rect x="29.6" y="5.2" width="2.6" height="4.6" fill="#9cb0c4"/>
<rect x="48" y="0" width="1" height="17" fill="#a0a0a0" shape-rendering="crispEdges"/>
<path d="M58.5 -1 h7.699999999999999 l3.5 3.5 v10.1 h-11.2 z" fill="#fff" stroke="#808080" stroke-width="0.9"/>
<line x1="60.2" y1="2" x2="62.5" y2="2" stroke="#909090" stroke-width="0.9"/>
<line x1="60.2" y1="5.5" x2="65.5" y2="5.5" stroke="#909090" stroke-width="0.9"/>
<line x1="60.2" y1="7.4" x2="64.6" y2="7.4" stroke="#909090" stroke-width="0.9"/>
<line x1="60.2" y1="9.5" x2="62.3" y2="9.5" stroke="#909090" stroke-width="0.9"/>
<path d="M66.19999999999999 5.3h3.8v3.9h3.9v3.8h-3.9v3.9h-3.8v-3.9h-3.9v-3.8h3.9z" fill="url(#grn)" stroke="#0c8a0c" stroke-width="0.8"/>
<text x="76.7" y="9.8" font-size="12" fill="#000" font-family="&quot;Liberation Sans&quot;, &quot;Noto Sans CJK SC&quot;, sans-serif">新订单</text>
<path d="M131 -1 L140.5 7.6 L132.8 14.8 L125 8.8 Z" fill="url(#gold)" stroke="#a87818" stroke-width="0.9"/>
<path d="M139.5 8.5 L132.8 14.3 L126.5 9.6" fill="none" stroke="#f8e8a0" stroke-width="1"/>
<rect x="155.2" y="-2" width="10.8" height="10.5" fill="#2a90f0" stroke="#1870d0" stroke-width="0.6"/><rect x="158.5" y="2.3" width="6.5" height="3" fill="#a8d4fa"/>
<path d="M155 14.5 a3 3 0 0 1 0.3 -5.8 a3.6 3.6 0 0 1 6.6 -1 a2.8 2.8 0 0 1 4.2 1.6 a2.7 2.7 0 0 1 0.2 5.2 z" fill="#eef2f8" stroke="#4a68a8" stroke-width="0.9"/>
<circle cx="189" cy="7" r="6.8" fill="none" stroke="#88a4dc" stroke-width="1.1"/><circle cx="189" cy="7" r="4" fill="none" stroke="#5078d0" stroke-width="1.1"/>
<path d="M189 7 L189 14.8 A7.8 7.8 0 0 0 196.4 4.5 Z" fill="#58b058" fill-opacity="0.75"/>
<circle cx="188.8" cy="6.9" r="1.6" fill="#2858d0"/><rect x="188.8" y="7" width="1.2" height="7.8" fill="#18a018"/>
<path d="M208.5 4.5 Q216 -1 223.8 3.5 Q219 8 214 7.5 Q210 7.5 208.5 4.5z" fill="#48a8dc" stroke="#2880b8" stroke-width="0.6"/>
<path d="M212.5 -1 L219 -1 L220 5 L211.5 5.5z" fill="#48a8dc"/>
<path d="M209.3 6.8 L222.5 6 L216 14.8 Z" fill="#f4d858" stroke="#d8a820" stroke-width="0.6"/>
<circle cx="220.4" cy="10.8" r="3.9" fill="#e42810"/><rect x="218.9" y="9.3" width="3" height="3" fill="#fff"/>
<text x="229.3" y="9.8" font-size="12" fill="#000" font-family="&quot;Liberation Sans&quot;, &quot;Noto Sans CJK SC&quot;, sans-serif">自动交易</text>
<rect x="284" y="0" width="1" height="19" fill="#a0a0a0" shape-rendering="crispEdges"/>
<rect x="285" y="0" width="1" height="19" fill="#fff" shape-rendering="crispEdges"/>
<rect x="288" y="1" width="3" height="1" fill="#b4b4b4" shape-rendering="crispEdges"/>
<rect x="288" y="3" width="3" height="1" fill="#b4b4b4" shape-rendering="crispEdges"/>
<rect x="288" y="5" width="3" height="1" fill="#b4b4b4" shape-rendering="crispEdges"/>
<rect x="288" y="7" width="3" height="1" fill="#b4b4b4" shape-rendering="crispEdges"/>
<rect x="288" y="9" width="3" height="1" fill="#b4b4b4" shape-rendering="crispEdges"/>
<rect x="288" y="11" width="3" height="1" fill="#b4b4b4" shape-rendering="crispEdges"/>
<rect x="288" y="13" width="3" height="1" fill="#b4b4b4" shape-rendering="crispEdges"/>
<rect x="288" y="15" width="3" height="1" fill="#b4b4b4" shape-rendering="crispEdges"/>
<g stroke="#505050" stroke-width="1.2" fill="#505050"><line x1="302.5" y1="2" x2="302.5" y2="15"/><line x1="300" y1="12.5" x2="312" y2="12.5"/><path d="M302.5 0.8 l-2 2.6 h4z" stroke="none"/><path d="M313.7 12.5 l-2.6 -2 v4z" stroke="none"/></g>
<path d="M308.4 2 V10.6 M308.4 3.6 H310.9 M306 9.6 H308.4" stroke="#10901a" stroke-width="1.3" fill="none"/>
<rect x="323" y="0" width="24" height="17" fill="url(#chk)"/>
<rect x="322" y="0" width="1" height="17" fill="#a0a0a0" shape-rendering="crispEdges"/>
<rect x="322" y="17" width="26" height="1" fill="#ffffff" shape-rendering="crispEdges"/>
<g stroke="#505050" stroke-width="1.2" fill="#505050"><line x1="330.5" y1="2" x2="330.5" y2="15"/><line x1="328" y1="12.5" x2="340" y2="12.5"/><path d="M330.5 0.8 l-2 2.6 h4z" stroke="none"/><path d="M341.7 12.5 l-2.6 -2 v4z" stroke="none"/></g>
<line x1="336.4" y1="0" x2="336.4" y2="10.7" stroke="#0c8a0c" stroke-width="1.2"/><rect x="334.3" y="1.4" width="4.3" height="7.3" fill="url(#grn)" stroke="#0c8a0c" stroke-width="0.9"/>
<g stroke="#505050" stroke-width="1.2" fill="#505050"><line x1="358.5" y1="2" x2="358.5" y2="15"/><line x1="356" y1="12.5" x2="368" y2="12.5"/><path d="M358.5 0.8 l-2 2.6 h4z" stroke="none"/><path d="M369.7 12.5 l-2.6 -2 v4z" stroke="none"/></g>
<path d="M357.2 9.6 Q360.5 3.4 363.3 4.4 Q365.5 5.5 368.6 8" stroke="#1a9020" stroke-width="1.3" fill="none"/>
<rect x="379" y="0" width="1" height="17" fill="#a0a0a0" shape-rendering="crispEdges"/>
<line x1="397.8" y1="8.9" x2="402.6" y2="13.8" stroke="#a87c10" stroke-width="3.6"/>
<line x1="398" y1="9.1" x2="402.4" y2="13.6" stroke="#f0d040" stroke-width="2.2"/>
<circle cx="394" cy="4.9" r="5.7" fill="url(#lens)" stroke="#3a7cc4" stroke-width="1"/>
<rect x="390.8" y="4.1" width="6.4" height="1.6" fill="#4a8fb8"/>
<rect x="393.2" y="1.7" width="1.6" height="6.4" fill="#4a8fb8"/>
<line x1="425.8" y1="8.9" x2="430.6" y2="13.8" stroke="#a87c10" stroke-width="3.6"/>
<line x1="426" y1="9.1" x2="430.4" y2="13.6" stroke="#f0d040" stroke-width="2.2"/>
<circle cx="422" cy="4.9" r="5.7" fill="url(#lens)" stroke="#3a7cc4" stroke-width="1"/>
<rect x="418.8" y="4.1" width="6.4" height="1.6" fill="#4a8fb8"/>
<rect x="444.3" y="-1" width="7.5" height="7.5" fill="#34a424"/><path d="M445.5 1.6h5.1v3.9h-1v-1.3h-3.1v1.3h-1z" fill="#fff"/><rect x="446.5" y="2.6" width="3.1" height="0.8" fill="#34a424" fill-opacity="0.6"/>
<rect x="452.4" y="-1" width="7.5" height="7.5" fill="#1c4cc8"/><path d="M453.59999999999997 1.6h5.1v3.9h-1v-1.3h-3.1v1.3h-1z" fill="#fff"/><rect x="454.59999999999997" y="2.6" width="3.1" height="0.8" fill="#1c4cc8" fill-opacity="0.6"/>
<rect x="444.3" y="7.3" width="7.5" height="7.5" fill="#1c4cc8"/><path d="M445.5 9.9h5.1v3.9h-1v-1.3h-3.1v1.3h-1z" fill="#fff"/><rect x="446.5" y="10.9" width="3.1" height="0.8" fill="#1c4cc8" fill-opacity="0.6"/>
<rect x="452.4" y="7.3" width="7.5" height="7.5" fill="#34a424"/><path d="M453.59999999999997 9.9h5.1v3.9h-1v-1.3h-3.1v1.3h-1z" fill="#fff"/><rect x="454.59999999999997" y="10.9" width="3.1" height="0.8" fill="#34a424" fill-opacity="0.6"/>
<rect x="469" y="0" width="1" height="17" fill="#a0a0a0" shape-rendering="crispEdges"/>
<rect x="475" y="0" width="24" height="17" fill="url(#chk)"/>
<rect x="474" y="0" width="1" height="17" fill="#a0a0a0" shape-rendering="crispEdges"/>
<rect x="474" y="17" width="26" height="1" fill="#ffffff" shape-rendering="crispEdges"/>
<g stroke="#505050" stroke-width="1.2" fill="#505050"><line x1="482.5" y1="2" x2="482.5" y2="15"/><line x1="480" y1="12.5" x2="492" y2="12.5"/><path d="M482.5 0.8 l-2 2.6 h4z" stroke="none"/><path d="M493.7 12.5 l-2.6 -2 v4z" stroke="none"/></g>
<path d="M487.2 3.1 L490.8 6.5 L487.2 9.9 Z" fill="#8ce48c" stroke="#14a014" stroke-width="0.9"/>
<rect x="503" y="0" width="24" height="17" fill="url(#chk)"/>
<rect x="502" y="0" width="1" height="17" fill="#a0a0a0" shape-rendering="crispEdges"/>
<rect x="502" y="17" width="26" height="1" fill="#ffffff" shape-rendering="crispEdges"/>
<g stroke="#505050" stroke-width="1.2" fill="#505050"><line x1="510.5" y1="2" x2="510.5" y2="15"/><line x1="508" y1="12.5" x2="520" y2="12.5"/><path d="M510.5 0.8 l-2 2.6 h4z" stroke="none"/><path d="M521.7 12.5 l-2.6 -2 v4z" stroke="none"/></g>
<line x1="516.5" y1="1" x2="516.5" y2="10.9" stroke="#1870a8" stroke-width="1.3"/><path d="M517.3 6.5 l2.6 -2.2 l-0.5 1.7 h2.6 v1 h-2.6 l0.5 1.7z" fill="#e05000"/>
<rect x="531" y="0" width="1" height="17" fill="#a0a0a0" shape-rendering="crispEdges"/>
<path d="M541.3 -1 h8.1 l3.5 3.5 v10.1 h-11.6 z" fill="#fff" stroke="#808080" stroke-width="0.9"/>
<path d="M544.5 9.5 c0.5 -6 2 -6 2 -7" fill="none" stroke="#504830" stroke-width="0.9"/><line x1="544" y1="5.5" x2="546.5" y2="5.5" stroke="#504830" stroke-width="0.8"/>
<path d="M549.1 5.2h3.8v3.9h3.9v3.8h-3.9v3.9h-3.8v-3.9h-3.9v-3.8h3.9z" fill="url(#grn)" stroke="#0c8a0c" stroke-width="0.8"/>
<path d="M562.7 6 h5.6 l-2.8 3.2z" fill="#000"/>
<circle cx="587" cy="7.3" r="6.9" fill="#fff" stroke="#1c68d8" stroke-width="2.1"/><circle cx="587" cy="7.3" r="7.9" fill="none" stroke="#1448a8" stroke-width="0.5"/>
<path d="M586.3 3.5 V7.6 H589.5" fill="none" stroke="#202020" stroke-width="1.1"/><rect x="585.8" y="9.3" width="2" height="0.7" fill="#90b8f0"/>
<path d="M601.7 6 h5.6 l-2.8 3.2z" fill="#000"/>
<rect x="618.4" y="-1" width="15.4" height="14.5" fill="#fff" stroke="#3a78d0" stroke-width="1"/><rect x="618.4" y="-1" width="15.4" height="2.6" fill="#4a88dc"/><line x1="618.4" y1="8" x2="633.8" y2="8" stroke="#3a78d0" stroke-width="0.9"/>
<path d="M620.3 6.3 h1.6 l1.8 -1.2 h1.2 l1.4 0.9 h1.6 l1.8 -1.6 h1.4" fill="none" stroke="#a02010" stroke-width="1.2"/>
<path d="M621 11.6 h1.4 l1.4 -1.2 l1.8 1.2 h0.8 l2.2 -2.2 l1.4 0.8 l1.2 1.6" fill="none" stroke="#18901c" stroke-width="1.2"/>
<path d="M640.8 6 h5.6 l-2.8 3.2z" fill="#000"/>
<rect x="652" y="0" width="1" height="19" fill="#a0a0a0" shape-rendering="crispEdges"/>
<rect x="653" y="0" width="1" height="19" fill="#fff" shape-rendering="crispEdges"/>
<rect x="656" y="1" width="3" height="1" fill="#b4b4b4" shape-rendering="crispEdges"/>
<rect x="656" y="3" width="3" height="1" fill="#b4b4b4" shape-rendering="crispEdges"/>
<rect x="656" y="5" width="3" height="1" fill="#b4b4b4" shape-rendering="crispEdges"/>
<rect x="656" y="7" width="3" height="1" fill="#b4b4b4" shape-rendering="crispEdges"/>
<rect x="656" y="9" width="3" height="1" fill="#b4b4b4" shape-rendering="crispEdges"/>
<rect x="656" y="11" width="3" height="1" fill="#b4b4b4" shape-rendering="crispEdges"/>
<rect x="656" y="13" width="3" height="1" fill="#b4b4b4" shape-rendering="crispEdges"/>
<rect x="656" y="15" width="3" height="1" fill="#b4b4b4" shape-rendering="crispEdges"/>
<rect x="663" y="0" width="24" height="17" fill="url(#chk)"/>
<rect x="662" y="0" width="1" height="17" fill="#a0a0a0" shape-rendering="crispEdges"/>
<rect x="662" y="17" width="26" height="1" fill="#ffffff" shape-rendering="crispEdges"/>
<path d="M670.2 -2 V10.6 L672.9 8.2 L675.4 13.9 L677.1 13.1 L674.7 7.7 H678 Z" fill="#505050"/>
<g stroke="#505050" stroke-width="1.3"><line x1="695" y1="7.5" x2="700.6" y2="7.5"/><line x1="704.4" y1="7.5" x2="710" y2="7.5"/><line x1="702.6" y1="0" x2="702.6" y2="5.6"/><line x1="702.6" y1="9.4" x2="702.6" y2="15"/></g><rect x="702" y="7" width="1.1" height="1.1" fill="#505050"/>
<rect x="719" y="0" width="1" height="17" fill="#a0a0a0" shape-rendering="crispEdges"/>
<g stroke="#505050" stroke-width="1.3"><line x1="736.5" y1="1.1" x2="736.5" y2="13.8"/><line x1="759.1" y1="7.5" x2="770.9" y2="7.5"/><line x1="787" y1="13.8" x2="798.8" y2="1.8"/></g>
<g stroke="#505050" stroke-width="1"><line x1="813.4" y1="8.9" x2="821" y2="1.3"/><line x1="814.6" y1="13" x2="826.7" y2="3.8"/><line x1="818" y1="14" x2="827" y2="6.5"/><path d="M815.5 11.5 l1.5 -5 l1.5 4 l1.5 -5.5 l1.5 4 l1.8 -6 l1.4 4.5" fill="none" stroke-width="0.9"/></g>
<path d="M824 11 h4 v1.1 h-2.8 v0.9 h2.4 v1 h-2.4 v1 h2.9 v1.1 h-4.1z" fill="#505050"/>
<line x1="842" y1="0.5" x2="855.3" y2="0.5" stroke="#505050" stroke-width="1" stroke-dasharray="1 1"/>
<line x1="842" y1="3.3" x2="855.3" y2="3.3" stroke="#505050" stroke-width="1" stroke-dasharray="1 1"/>
<line x1="842" y1="7.5" x2="855.3" y2="7.5" stroke="#505050" stroke-width="1" stroke-dasharray="1 1"/>
<line x1="842" y1="11.5" x2="851" y2="11.5" stroke="#505050" stroke-width="1" stroke-dasharray="1 1"/>
<path d="M852 11 h4 v1.1 h-2.8 v1.2 h2.4 v1 h-2.4 v1.8 h-1.2z" fill="#505050"/>
<path d="M872.7 11.9 L876 3 h1.3 L880.6 11.9 h-1.3 l-0.9 -2.5 h-3.5 l-0.9 2.5z M875.3 8.3 h2.7 l-1.35 -3.8z" fill="#505050" fill-rule="evenodd"/>
<rect x="899.5" y="1.5" width="11" height="12" fill="none" stroke="#505050" stroke-width="1" stroke-dasharray="1 1" shape-rendering="crispEdges"/><path d="M898.3 0 l1.2 -1.5 l1.2 1.5z" fill="#505050"/>
<path d="M901.2 4.1 h7.7 v1.3 h-3.1 v6.5 h-1.5 v-6.5 h-3.1z" fill="#505050"/>
<path d="M929.5 1 l3.3 3 l-3.3 2.2 l-3.3 -2.2z" fill="#505050"/><path d="M936.5 13.6 l3.3 -3.2 l-3.3 -2 l-3.3 2z" fill="#505050"/><path d="M928.5 8.5 l2.2 2 l4 -5.5" fill="none" stroke="#505050" stroke-width="1.3"/>
<path d="M946.8 6 h5.6 l-2.8 3.2z" fill="#000"/>
<rect x="958" y="0" width="1" height="19" fill="#a0a0a0" shape-rendering="crispEdges"/>
<rect x="959" y="0" width="1" height="19" fill="#fff" shape-rendering="crispEdges"/>
<rect x="962" y="1" width="3" height="1" fill="#b4b4b4" shape-rendering="crispEdges"/>
<rect x="962" y="3" width="3" height="1" fill="#b4b4b4" shape-rendering="crispEdges"/>
<rect x="962" y="5" width="3" height="1" fill="#b4b4b4" shape-rendering="crispEdges"/>
<rect x="962" y="7" width="3" height="1" fill="#b4b4b4" shape-rendering="crispEdges"/>
<rect x="962" y="9" width="3" height="1" fill="#b4b4b4" shape-rendering="crispEdges"/>
<rect x="962" y="11" width="3" height="1" fill="#b4b4b4" shape-rendering="crispEdges"/>
<rect x="962" y="13" width="3" height="1" fill="#b4b4b4" shape-rendering="crispEdges"/>
<rect x="962" y="15" width="3" height="1" fill="#b4b4b4" shape-rendering="crispEdges"/>
<rect x="1137" y="0" width="24" height="17" fill="url(#chk)"/>
<rect x="1136" y="0" width="1" height="17" fill="#a0a0a0" shape-rendering="crispEdges"/>
<rect x="1136" y="17" width="26" height="1" fill="#ffffff" shape-rendering="crispEdges"/>
<rect x="1219" y="0" width="1" height="17" fill="#a0a0a0" shape-rendering="crispEdges"/>
<line x1="1686.6" y1="7.5" x2="1682" y2="11.8" stroke="#2858c8" stroke-width="2.6"/><circle cx="1689.5" cy="4.3" r="4" fill="#f4f6fa" stroke="#2454d0" stroke-width="1.3"/>
<path d="M1724 8.2 l1.6 2.2 l-0.2 -2.6z" fill="#909090"/><ellipse cx="1722.2" cy="3.6" rx="6.6" ry="4.6" fill="#e0e0e8" stroke="#a8a8a8" stroke-width="0.8"/>
<path d="M1711.5 10.8 l-0.8 2.4 l2.6 -1.8z" fill="#707070"/><ellipse cx="1713.4" cy="8" rx="5.2" ry="3.8" fill="#ececf0" stroke="#a0a0a0" stroke-width="0.8"/></svg><div class="tf" style="left:973.5px">M1</div><div class="tf" style="left:1001.5px">M5</div><div class="tf" style="left:1027.6px">M15</div><div class="tf" style="left:1055.6px">M30</div><div class="tf" style="left:1086.8px">H1</div><div class="tf" style="left:1113.7px">H4</div><div class="tf" style="left:1142.4px">D1</div><div class="tf" style="left:1170.1px">W1</div><div class="tf" style="left:1196.6px">MN</div></div>
<div id="tbline0"></div><div id="tbline1"></div><div id="tbline2"></div>
<div id="rborder"></div><div id="bborder"></div>

<div class="pn pb" style="left:0;top:43px;width:51px;height:24px;"></div>
<div class="pn pb" style="left:166px;top:43px;width:52px;height:24px;"></div>
<div class="pn pp" style="left:0;top:67px;width:108px;height:40px;"></div>
<div class="pn pp" style="left:110px;top:67px;width:108px;height:40px;"></div>
<div class="pn" style="left:0;top:43px;width:51px;height:1px;background:#0808b8;"></div>
<div class="pn" style="left:50px;top:43px;width:1px;height:25px;background:#0808b8;"></div>
<div class="pn" style="left:50px;top:67px;width:58px;height:1px;background:#0808b8;"></div>
<div class="pn" style="left:107px;top:67px;width:1px;height:40px;background:#0808a8;"></div>
<div class="pn" style="left:166px;top:43px;width:52px;height:1px;background:#0808b8;"></div>
<div class="pn" style="left:166px;top:43px;width:1px;height:25px;background:#0808b8;"></div>
<div class="pn" style="left:110px;top:67px;width:57px;height:1px;background:#0808b8;"></div>
<div class="pn" style="left:110px;top:67px;width:1px;height:40px;background:#0808a8;"></div>
<div class="pn" style="left:217px;top:43px;width:1px;height:64px;background:#0808a8;"></div>
<div class="pn" style="left:3px;top:66px;width:44px;height:1px;background:#1010b0;"></div>
<div class="pn" style="left:3px;top:67px;width:44px;height:1px;background:#7878f8;"></div>
<div class="pn" style="left:170px;top:66px;width:44px;height:1px;background:#1010b0;"></div>
<div class="pn" style="left:170px;top:67px;width:44px;height:1px;background:#7878f8;"></div>
<div class="pn" style="left:53px;top:43px;width:110px;height:20px;border:1px solid #a8a8a8;background:#fff;"></div>
<div class="pn" style="left:55px;top:45px;width:18px;height:18px;background:linear-gradient(#ececec 0%,#e0e0e0 45%,#cfcfcf 55%,#c8c8c8 100%);border-right:1px solid #a8a8a8;"></div>
<div class="pn" style="left:143px;top:45px;width:20px;height:18px;background:linear-gradient(#ececec 0%,#e0e0e0 45%,#cfcfcf 55%,#c8c8c8 100%);border-left:1px solid #a8a8a8;"></div>
<svg class="pn" style="left:55px;top:45px" width="110" height="18"><path d="M5.9 7h5.2l-2.6 3z" fill="#4860c0"/><path d="M95.4 9.8h5.2l-2.6 -3z" fill="#4860c0"/></svg>
<div class="ptxt" style="left:11.5px;top:48.5px;font-size:12px;font-weight:normal;transform:scaleX(0.875);color:#fff">SELL</div><div class="ptxt" style="left:179.5px;top:48.5px;font-size:12px;font-weight:normal;transform:scaleX(0.95);color:#fff">BUY</div><div class="ptxt" style="left:116px;top:47.5px;font-size:12px;font-weight:normal;transform:scaleX(0.97);color:#000">1.00</div><div class="ptxt" style="left:22.5px;top:87.5px;font-size:12px;font-weight:bold;transform:scaleX(1.0);color:#fff">107</div><div class="ptxt" style="left:132.5px;top:87.5px;font-size:12px;font-weight:bold;transform:scaleX(1.0);color:#fff">107</div><div class="ptxt" style="left:47.5px;top:70px;font-size:33px;font-weight:normal;transform:scaleX(0.9);color:#fff">35</div><div class="ptxt" style="left:158px;top:70px;font-size:33px;font-weight:normal;transform:scaleX(0.9);color:#fff">38</div><div class="ptxt" style="left:86px;top:71.5px;font-size:12px;font-weight:bold;transform:scaleX(1.0);color:#fff">9</div><div class="ptxt" style="left:196.5px;top:71.5px;font-size:12px;font-weight:bold;transform:scaleX(1.0);color:#fff">0</div><svg class="pn" style="left:0;top:28px" width="8" height="8"><path d="M0 5.5h6l-3 -4z" fill="#000"/></svg>
</body></html>
